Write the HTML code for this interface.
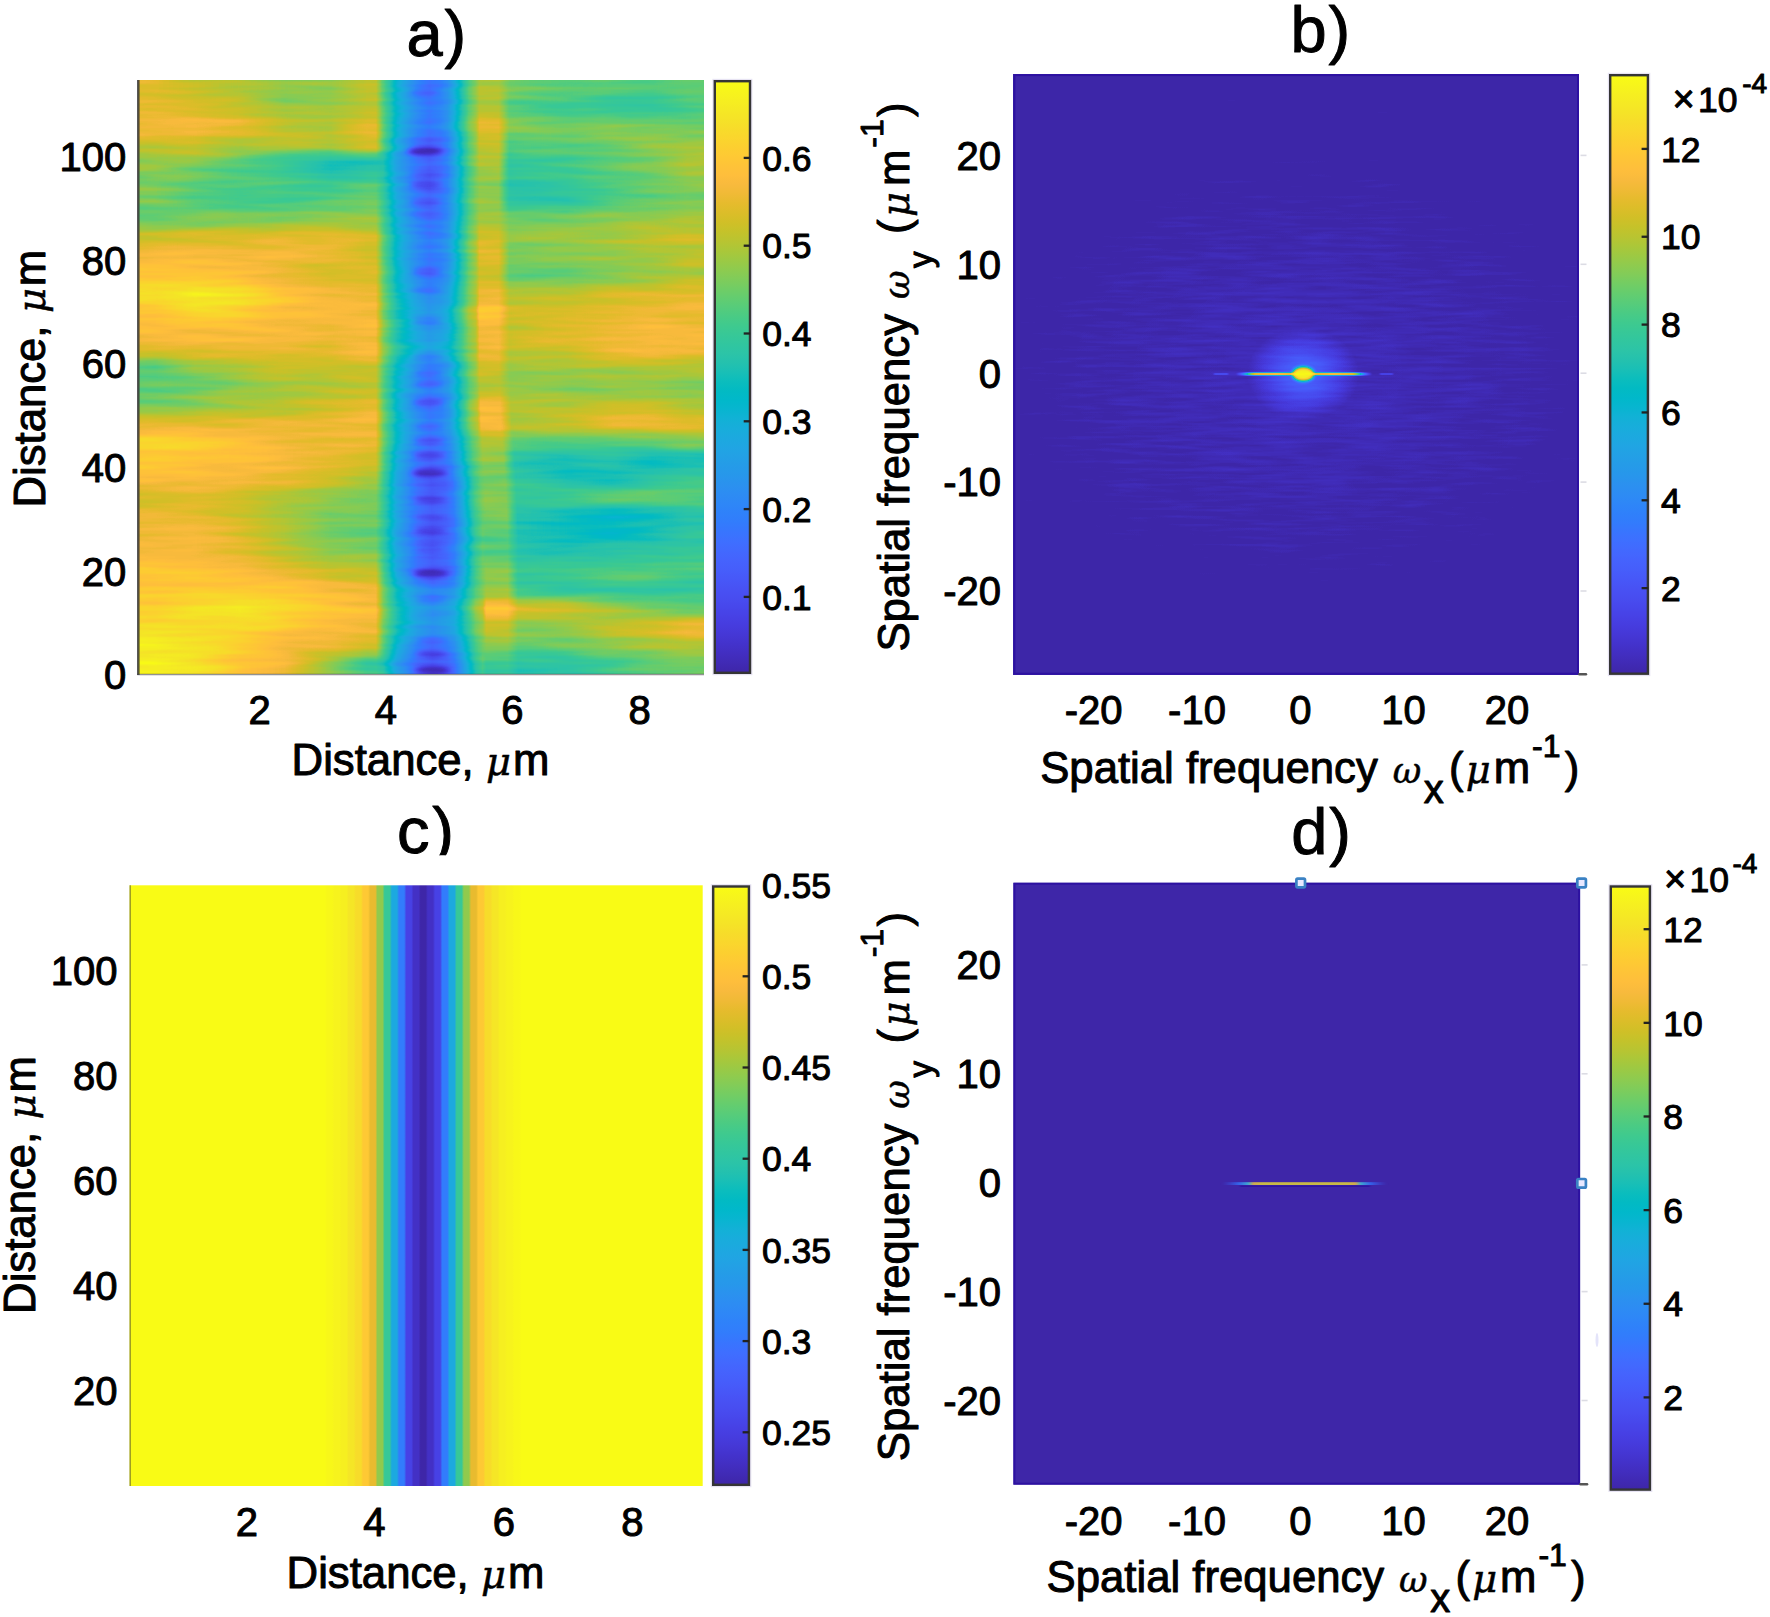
<!DOCTYPE html>
<html><head><meta charset="utf-8"><title>Figure</title>
<style>html,body{margin:0;padding:0;background:#fff;overflow:hidden}svg{display:block}text{font-family:"Liberation Sans", sans-serif;fill:#000;stroke:#000;stroke-width:1.0px;stroke-linejoin:round}</style>
</head><body>
<svg width="1770" height="1617" viewBox="0 0 1770 1617">
<defs>
<linearGradient id="pg" x1="0" y1="0" x2="0" y2="1"><stop offset="0.0000" stop-color="#f9fb15"/><stop offset="0.0159" stop-color="#f7f51b"/><stop offset="0.0317" stop-color="#f6ef20"/><stop offset="0.0476" stop-color="#f5e924"/><stop offset="0.0635" stop-color="#f5e327"/><stop offset="0.0794" stop-color="#f7dc2a"/><stop offset="0.0952" stop-color="#fad62d"/><stop offset="0.1111" stop-color="#fccf30"/><stop offset="0.1270" stop-color="#fec934"/><stop offset="0.1429" stop-color="#fec338"/><stop offset="0.1587" stop-color="#febe3c"/><stop offset="0.1746" stop-color="#f8ba3d"/><stop offset="0.1905" stop-color="#f0ba36"/><stop offset="0.2063" stop-color="#e6bb2d"/><stop offset="0.2222" stop-color="#dcbd29"/><stop offset="0.2381" stop-color="#d1bf27"/><stop offset="0.2540" stop-color="#c5c22a"/><stop offset="0.2698" stop-color="#b9c431"/><stop offset="0.2857" stop-color="#abc739"/><stop offset="0.3016" stop-color="#9dc943"/><stop offset="0.3175" stop-color="#8fcb4e"/><stop offset="0.3333" stop-color="#81cc59"/><stop offset="0.3492" stop-color="#72cd64"/><stop offset="0.3651" stop-color="#64cd6f"/><stop offset="0.3810" stop-color="#57cc7a"/><stop offset="0.3968" stop-color="#4acb84"/><stop offset="0.4127" stop-color="#3fca8e"/><stop offset="0.4286" stop-color="#37c897"/><stop offset="0.4444" stop-color="#31c69f"/><stop offset="0.4603" stop-color="#2cc4a7"/><stop offset="0.4762" stop-color="#24c1ae"/><stop offset="0.4921" stop-color="#19bfb6"/><stop offset="0.5079" stop-color="#0bbdbd"/><stop offset="0.5238" stop-color="#02bac3"/><stop offset="0.5397" stop-color="#01b8ca"/><stop offset="0.5556" stop-color="#08b5d0"/><stop offset="0.5714" stop-color="#12b1d6"/><stop offset="0.5873" stop-color="#18addb"/><stop offset="0.6032" stop-color="#1ca9df"/><stop offset="0.6190" stop-color="#20a5e3"/><stop offset="0.6349" stop-color="#23a0e5"/><stop offset="0.6508" stop-color="#259be8"/><stop offset="0.6667" stop-color="#2797eb"/><stop offset="0.6825" stop-color="#2b91ef"/><stop offset="0.6984" stop-color="#2d8cf3"/><stop offset="0.7143" stop-color="#2e87f7"/><stop offset="0.7302" stop-color="#2f81fa"/><stop offset="0.7460" stop-color="#327cfc"/><stop offset="0.7619" stop-color="#3875fe"/><stop offset="0.7778" stop-color="#3e6fff"/><stop offset="0.7937" stop-color="#4269fe"/><stop offset="0.8095" stop-color="#4563fd"/><stop offset="0.8254" stop-color="#465efb"/><stop offset="0.8413" stop-color="#4758f8"/><stop offset="0.8571" stop-color="#4852f4"/><stop offset="0.8730" stop-color="#484df0"/><stop offset="0.8889" stop-color="#4747eb"/><stop offset="0.9048" stop-color="#4741e5"/><stop offset="0.9206" stop-color="#463cde"/><stop offset="0.9365" stop-color="#4537d5"/><stop offset="0.9524" stop-color="#4332cb"/><stop offset="0.9683" stop-color="#422ec0"/><stop offset="0.9841" stop-color="#402ab4"/><stop offset="1.0000" stop-color="#3e26a8"/></linearGradient>
<linearGradient id="a0" gradientUnits="userSpaceOnUse" x1="138.3" y1="0" x2="704.0" y2="0"><stop offset="0.0000" stop-color="#c7c7c7"/><stop offset="0.0300" stop-color="#c7c7c7"/><stop offset="0.1000" stop-color="#bfbfbf"/><stop offset="0.1800" stop-color="#b8b8b8"/><stop offset="0.2600" stop-color="#a9a9a9"/><stop offset="0.3400" stop-color="#adadad"/><stop offset="0.4050" stop-color="#bcbcbc"/><stop offset="0.4200" stop-color="#bcbcbc"/><stop offset="0.4326" stop-color="#9e9e9e"/><stop offset="0.4449" stop-color="#888888"/><stop offset="0.4573" stop-color="#707070"/><stop offset="0.4697" stop-color="#626262"/><stop offset="0.4821" stop-color="#545454"/><stop offset="0.4944" stop-color="#484848"/><stop offset="0.5140" stop-color="#3c3c3c"/><stop offset="0.5333" stop-color="#434343"/><stop offset="0.5466" stop-color="#4f4f4f"/><stop offset="0.5598" stop-color="#696969"/><stop offset="0.5722" stop-color="#838383"/><stop offset="0.5846" stop-color="#9e9e9e"/><stop offset="0.5970" stop-color="#adadad"/><stop offset="0.6030" stop-color="#b8b8b8"/><stop offset="0.6370" stop-color="#b8b8b8"/><stop offset="0.6560" stop-color="#a9a9a9"/><stop offset="0.7600" stop-color="#a1a1a1"/><stop offset="0.8400" stop-color="#9d9d9d"/><stop offset="0.9100" stop-color="#9d9d9d"/><stop offset="0.9700" stop-color="#a1a1a1"/><stop offset="1.0000" stop-color="#a1a1a1"/></linearGradient>
<linearGradient id="a1" gradientUnits="userSpaceOnUse" x1="138.3" y1="0" x2="704.0" y2="0"><stop offset="0.0000" stop-color="#cbcbcb"/><stop offset="0.0300" stop-color="#cbcbcb"/><stop offset="0.1000" stop-color="#c7c7c7"/><stop offset="0.1800" stop-color="#bfbfbf"/><stop offset="0.2600" stop-color="#b0b0b0"/><stop offset="0.3400" stop-color="#b4b4b4"/><stop offset="0.4050" stop-color="#bcbcbc"/><stop offset="0.4200" stop-color="#bcbcbc"/><stop offset="0.4326" stop-color="#9f9f9f"/><stop offset="0.4449" stop-color="#898989"/><stop offset="0.4573" stop-color="#727272"/><stop offset="0.4697" stop-color="#656565"/><stop offset="0.4821" stop-color="#575757"/><stop offset="0.4944" stop-color="#4c4c4c"/><stop offset="0.5140" stop-color="#3f3f3f"/><stop offset="0.5333" stop-color="#474747"/><stop offset="0.5466" stop-color="#525252"/><stop offset="0.5598" stop-color="#6b6b6b"/><stop offset="0.5722" stop-color="#858585"/><stop offset="0.5846" stop-color="#9e9e9e"/><stop offset="0.5970" stop-color="#adadad"/><stop offset="0.6030" stop-color="#b8b8b8"/><stop offset="0.6370" stop-color="#b8b8b8"/><stop offset="0.6560" stop-color="#9d9d9d"/><stop offset="0.7600" stop-color="#929292"/><stop offset="0.8400" stop-color="#8e8e8e"/><stop offset="0.9100" stop-color="#8e8e8e"/><stop offset="0.9700" stop-color="#969696"/><stop offset="1.0000" stop-color="#969696"/></linearGradient>
<linearGradient id="a2" gradientUnits="userSpaceOnUse" x1="138.3" y1="0" x2="704.0" y2="0"><stop offset="0.0000" stop-color="#d2d2d2"/><stop offset="0.0300" stop-color="#d2d2d2"/><stop offset="0.1000" stop-color="#d2d2d2"/><stop offset="0.1800" stop-color="#cecece"/><stop offset="0.2600" stop-color="#bfbfbf"/><stop offset="0.3400" stop-color="#b8b8b8"/><stop offset="0.4050" stop-color="#cbcbcb"/><stop offset="0.4200" stop-color="#cbcbcb"/><stop offset="0.4326" stop-color="#a5a5a5"/><stop offset="0.4449" stop-color="#8d8d8d"/><stop offset="0.4573" stop-color="#737373"/><stop offset="0.4697" stop-color="#646464"/><stop offset="0.4821" stop-color="#555555"/><stop offset="0.4944" stop-color="#494949"/><stop offset="0.5140" stop-color="#3c3c3c"/><stop offset="0.5333" stop-color="#434343"/><stop offset="0.5466" stop-color="#505050"/><stop offset="0.5598" stop-color="#6c6c6c"/><stop offset="0.5722" stop-color="#898989"/><stop offset="0.5846" stop-color="#a6a6a6"/><stop offset="0.5970" stop-color="#b6b6b6"/><stop offset="0.6030" stop-color="#cbcbcb"/><stop offset="0.6370" stop-color="#cbcbcb"/><stop offset="0.6560" stop-color="#adadad"/><stop offset="0.7600" stop-color="#a9a9a9"/><stop offset="0.8400" stop-color="#adadad"/><stop offset="0.9100" stop-color="#a9a9a9"/><stop offset="0.9700" stop-color="#a5a5a5"/><stop offset="1.0000" stop-color="#a5a5a5"/></linearGradient>
<linearGradient id="a3" gradientUnits="userSpaceOnUse" x1="138.3" y1="0" x2="704.0" y2="0"><stop offset="0.0000" stop-color="#bfbfbf"/><stop offset="0.0300" stop-color="#bfbfbf"/><stop offset="0.1000" stop-color="#c3c3c3"/><stop offset="0.1800" stop-color="#b8b8b8"/><stop offset="0.2600" stop-color="#b8b8b8"/><stop offset="0.3400" stop-color="#b8b8b8"/><stop offset="0.4050" stop-color="#c7c7c7"/><stop offset="0.4200" stop-color="#c7c7c7"/><stop offset="0.4326" stop-color="#a1a1a1"/><stop offset="0.4449" stop-color="#868686"/><stop offset="0.4573" stop-color="#6a6a6a"/><stop offset="0.4697" stop-color="#595959"/><stop offset="0.4821" stop-color="#484848"/><stop offset="0.4944" stop-color="#3a3a3a"/><stop offset="0.5140" stop-color="#2c2c2c"/><stop offset="0.5333" stop-color="#343434"/><stop offset="0.5466" stop-color="#424242"/><stop offset="0.5598" stop-color="#616161"/><stop offset="0.5722" stop-color="#808080"/><stop offset="0.5846" stop-color="#9f9f9f"/><stop offset="0.5970" stop-color="#b0b0b0"/><stop offset="0.6030" stop-color="#bfbfbf"/><stop offset="0.6370" stop-color="#bfbfbf"/><stop offset="0.6560" stop-color="#9a9a9a"/><stop offset="0.7600" stop-color="#9d9d9d"/><stop offset="0.8400" stop-color="#a5a5a5"/><stop offset="0.9100" stop-color="#adadad"/><stop offset="0.9700" stop-color="#b4b4b4"/><stop offset="1.0000" stop-color="#b4b4b4"/></linearGradient>
<linearGradient id="a4" gradientUnits="userSpaceOnUse" x1="138.3" y1="0" x2="704.0" y2="0"><stop offset="0.0000" stop-color="#b0b0b0"/><stop offset="0.0300" stop-color="#b0b0b0"/><stop offset="0.1000" stop-color="#a9a9a9"/><stop offset="0.1800" stop-color="#9d9d9d"/><stop offset="0.2600" stop-color="#8b8b8b"/><stop offset="0.3400" stop-color="#7c7c7c"/><stop offset="0.4050" stop-color="#838383"/><stop offset="0.4200" stop-color="#838383"/><stop offset="0.4326" stop-color="#858585"/><stop offset="0.4449" stop-color="#727272"/><stop offset="0.4573" stop-color="#5e5e5e"/><stop offset="0.4697" stop-color="#525252"/><stop offset="0.4821" stop-color="#464646"/><stop offset="0.4944" stop-color="#3c3c3c"/><stop offset="0.5140" stop-color="#303030"/><stop offset="0.5333" stop-color="#383838"/><stop offset="0.5466" stop-color="#454545"/><stop offset="0.5598" stop-color="#626262"/><stop offset="0.5722" stop-color="#7f7f7f"/><stop offset="0.5846" stop-color="#9c9c9c"/><stop offset="0.5970" stop-color="#adadad"/><stop offset="0.6030" stop-color="#b8b8b8"/><stop offset="0.6370" stop-color="#b8b8b8"/><stop offset="0.6560" stop-color="#8e8e8e"/><stop offset="0.7600" stop-color="#969696"/><stop offset="0.8400" stop-color="#a1a1a1"/><stop offset="0.9100" stop-color="#a9a9a9"/><stop offset="0.9700" stop-color="#b8b8b8"/><stop offset="1.0000" stop-color="#b8b8b8"/></linearGradient>
<linearGradient id="a5" gradientUnits="userSpaceOnUse" x1="138.3" y1="0" x2="704.0" y2="0"><stop offset="0.0000" stop-color="#a9a9a9"/><stop offset="0.0300" stop-color="#a9a9a9"/><stop offset="0.1000" stop-color="#a1a1a1"/><stop offset="0.1800" stop-color="#9d9d9d"/><stop offset="0.2600" stop-color="#969696"/><stop offset="0.3400" stop-color="#929292"/><stop offset="0.4050" stop-color="#9a9a9a"/><stop offset="0.4200" stop-color="#9a9a9a"/><stop offset="0.4326" stop-color="#8e8e8e"/><stop offset="0.4449" stop-color="#797979"/><stop offset="0.4573" stop-color="#626262"/><stop offset="0.4697" stop-color="#555555"/><stop offset="0.4821" stop-color="#484848"/><stop offset="0.4944" stop-color="#3d3d3d"/><stop offset="0.5140" stop-color="#303030"/><stop offset="0.5333" stop-color="#383838"/><stop offset="0.5466" stop-color="#444444"/><stop offset="0.5598" stop-color="#606060"/><stop offset="0.5722" stop-color="#7c7c7c"/><stop offset="0.5846" stop-color="#979797"/><stop offset="0.5970" stop-color="#a7a7a7"/><stop offset="0.6030" stop-color="#adadad"/><stop offset="0.6370" stop-color="#adadad"/><stop offset="0.6560" stop-color="#8b8b8b"/><stop offset="0.7600" stop-color="#929292"/><stop offset="0.8400" stop-color="#9d9d9d"/><stop offset="0.9100" stop-color="#a5a5a5"/><stop offset="0.9700" stop-color="#a9a9a9"/><stop offset="1.0000" stop-color="#a9a9a9"/></linearGradient>
<linearGradient id="a6" gradientUnits="userSpaceOnUse" x1="138.3" y1="0" x2="704.0" y2="0"><stop offset="0.0000" stop-color="#a9a9a9"/><stop offset="0.0300" stop-color="#a9a9a9"/><stop offset="0.1000" stop-color="#9d9d9d"/><stop offset="0.1800" stop-color="#969696"/><stop offset="0.2600" stop-color="#969696"/><stop offset="0.3400" stop-color="#9d9d9d"/><stop offset="0.4050" stop-color="#a5a5a5"/><stop offset="0.4200" stop-color="#a5a5a5"/><stop offset="0.4326" stop-color="#949494"/><stop offset="0.4449" stop-color="#7e7e7e"/><stop offset="0.4573" stop-color="#676767"/><stop offset="0.4697" stop-color="#5a5a5a"/><stop offset="0.4821" stop-color="#4c4c4c"/><stop offset="0.4944" stop-color="#414141"/><stop offset="0.5140" stop-color="#343434"/><stop offset="0.5333" stop-color="#3c3c3c"/><stop offset="0.5466" stop-color="#474747"/><stop offset="0.5598" stop-color="#626262"/><stop offset="0.5722" stop-color="#7d7d7d"/><stop offset="0.5846" stop-color="#989898"/><stop offset="0.5970" stop-color="#a7a7a7"/><stop offset="0.6030" stop-color="#adadad"/><stop offset="0.6370" stop-color="#adadad"/><stop offset="0.6560" stop-color="#8b8b8b"/><stop offset="0.7600" stop-color="#8b8b8b"/><stop offset="0.8400" stop-color="#9a9a9a"/><stop offset="0.9100" stop-color="#a1a1a1"/><stop offset="0.9700" stop-color="#a9a9a9"/><stop offset="1.0000" stop-color="#a9a9a9"/></linearGradient>
<linearGradient id="a7" gradientUnits="userSpaceOnUse" x1="138.3" y1="0" x2="704.0" y2="0"><stop offset="0.0000" stop-color="#a1a1a1"/><stop offset="0.0300" stop-color="#a1a1a1"/><stop offset="0.1000" stop-color="#a5a5a5"/><stop offset="0.1800" stop-color="#a9a9a9"/><stop offset="0.2600" stop-color="#adadad"/><stop offset="0.3400" stop-color="#b0b0b0"/><stop offset="0.4050" stop-color="#b0b0b0"/><stop offset="0.4200" stop-color="#b0b0b0"/><stop offset="0.4326" stop-color="#999999"/><stop offset="0.4449" stop-color="#838383"/><stop offset="0.4573" stop-color="#6c6c6c"/><stop offset="0.4697" stop-color="#5e5e5e"/><stop offset="0.4821" stop-color="#505050"/><stop offset="0.4944" stop-color="#454545"/><stop offset="0.5140" stop-color="#383838"/><stop offset="0.5333" stop-color="#3f3f3f"/><stop offset="0.5466" stop-color="#4b4b4b"/><stop offset="0.5598" stop-color="#666666"/><stop offset="0.5722" stop-color="#818181"/><stop offset="0.5846" stop-color="#9c9c9c"/><stop offset="0.5970" stop-color="#ababab"/><stop offset="0.6030" stop-color="#b4b4b4"/><stop offset="0.6370" stop-color="#b4b4b4"/><stop offset="0.6560" stop-color="#a9a9a9"/><stop offset="0.7600" stop-color="#a9a9a9"/><stop offset="0.8400" stop-color="#adadad"/><stop offset="0.9100" stop-color="#b0b0b0"/><stop offset="0.9700" stop-color="#b4b4b4"/><stop offset="1.0000" stop-color="#b4b4b4"/></linearGradient>
<linearGradient id="a8" gradientUnits="userSpaceOnUse" x1="138.3" y1="0" x2="704.0" y2="0"><stop offset="0.0000" stop-color="#c3c3c3"/><stop offset="0.0300" stop-color="#c3c3c3"/><stop offset="0.1000" stop-color="#c7c7c7"/><stop offset="0.1800" stop-color="#c7c7c7"/><stop offset="0.2600" stop-color="#cbcbcb"/><stop offset="0.3400" stop-color="#cbcbcb"/><stop offset="0.4050" stop-color="#c3c3c3"/><stop offset="0.4200" stop-color="#c3c3c3"/><stop offset="0.4326" stop-color="#a2a2a2"/><stop offset="0.4449" stop-color="#8c8c8c"/><stop offset="0.4573" stop-color="#747474"/><stop offset="0.4697" stop-color="#666666"/><stop offset="0.4821" stop-color="#585858"/><stop offset="0.4944" stop-color="#4c4c4c"/><stop offset="0.5140" stop-color="#3f3f3f"/><stop offset="0.5333" stop-color="#474747"/><stop offset="0.5466" stop-color="#535353"/><stop offset="0.5598" stop-color="#6d6d6d"/><stop offset="0.5722" stop-color="#888888"/><stop offset="0.5846" stop-color="#a3a3a3"/><stop offset="0.5970" stop-color="#b2b2b2"/><stop offset="0.6030" stop-color="#c3c3c3"/><stop offset="0.6370" stop-color="#c3c3c3"/><stop offset="0.6560" stop-color="#adadad"/><stop offset="0.7600" stop-color="#b0b0b0"/><stop offset="0.8400" stop-color="#b8b8b8"/><stop offset="0.9100" stop-color="#bfbfbf"/><stop offset="0.9700" stop-color="#c3c3c3"/><stop offset="1.0000" stop-color="#c3c3c3"/></linearGradient>
<linearGradient id="a9" gradientUnits="userSpaceOnUse" x1="138.3" y1="0" x2="704.0" y2="0"><stop offset="0.0000" stop-color="#d6d6d6"/><stop offset="0.0300" stop-color="#d6d6d6"/><stop offset="0.1000" stop-color="#d2d2d2"/><stop offset="0.1800" stop-color="#d2d2d2"/><stop offset="0.2600" stop-color="#d2d2d2"/><stop offset="0.3400" stop-color="#cecece"/><stop offset="0.4050" stop-color="#c3c3c3"/><stop offset="0.4200" stop-color="#c3c3c3"/><stop offset="0.4326" stop-color="#a2a2a2"/><stop offset="0.4449" stop-color="#8c8c8c"/><stop offset="0.4573" stop-color="#747474"/><stop offset="0.4697" stop-color="#666666"/><stop offset="0.4821" stop-color="#585858"/><stop offset="0.4944" stop-color="#4c4c4c"/><stop offset="0.5140" stop-color="#3f3f3f"/><stop offset="0.5333" stop-color="#474747"/><stop offset="0.5466" stop-color="#535353"/><stop offset="0.5598" stop-color="#6f6f6f"/><stop offset="0.5722" stop-color="#8b8b8b"/><stop offset="0.5846" stop-color="#a6a6a6"/><stop offset="0.5970" stop-color="#b6b6b6"/><stop offset="0.6030" stop-color="#cbcbcb"/><stop offset="0.6370" stop-color="#cbcbcb"/><stop offset="0.6560" stop-color="#a9a9a9"/><stop offset="0.7600" stop-color="#adadad"/><stop offset="0.8400" stop-color="#b0b0b0"/><stop offset="0.9100" stop-color="#b4b4b4"/><stop offset="0.9700" stop-color="#b8b8b8"/><stop offset="1.0000" stop-color="#b8b8b8"/></linearGradient>
<linearGradient id="a10" gradientUnits="userSpaceOnUse" x1="138.3" y1="0" x2="704.0" y2="0"><stop offset="0.0000" stop-color="#dddddd"/><stop offset="0.0300" stop-color="#dddddd"/><stop offset="0.1000" stop-color="#dddddd"/><stop offset="0.1800" stop-color="#d6d6d6"/><stop offset="0.2600" stop-color="#cbcbcb"/><stop offset="0.3400" stop-color="#c3c3c3"/><stop offset="0.4050" stop-color="#c3c3c3"/><stop offset="0.4200" stop-color="#c3c3c3"/><stop offset="0.4326" stop-color="#a2a2a2"/><stop offset="0.4449" stop-color="#8c8c8c"/><stop offset="0.4573" stop-color="#747474"/><stop offset="0.4697" stop-color="#666666"/><stop offset="0.4821" stop-color="#585858"/><stop offset="0.4944" stop-color="#4c4c4c"/><stop offset="0.5140" stop-color="#3f3f3f"/><stop offset="0.5333" stop-color="#474747"/><stop offset="0.5466" stop-color="#525252"/><stop offset="0.5598" stop-color="#6d6d6d"/><stop offset="0.5722" stop-color="#878787"/><stop offset="0.5846" stop-color="#a2a2a2"/><stop offset="0.5970" stop-color="#b0b0b0"/><stop offset="0.6030" stop-color="#bfbfbf"/><stop offset="0.6370" stop-color="#bfbfbf"/><stop offset="0.6560" stop-color="#a1a1a1"/><stop offset="0.7600" stop-color="#a1a1a1"/><stop offset="0.8400" stop-color="#a9a9a9"/><stop offset="0.9100" stop-color="#b0b0b0"/><stop offset="0.9700" stop-color="#b8b8b8"/><stop offset="1.0000" stop-color="#b8b8b8"/></linearGradient>
<linearGradient id="a11" gradientUnits="userSpaceOnUse" x1="138.3" y1="0" x2="704.0" y2="0"><stop offset="0.0000" stop-color="#ededed"/><stop offset="0.0300" stop-color="#ededed"/><stop offset="0.1000" stop-color="#f8f8f8"/><stop offset="0.1800" stop-color="#f0f0f0"/><stop offset="0.2600" stop-color="#dddddd"/><stop offset="0.3400" stop-color="#d2d2d2"/><stop offset="0.4050" stop-color="#cecece"/><stop offset="0.4200" stop-color="#cecece"/><stop offset="0.4326" stop-color="#a9a9a9"/><stop offset="0.4449" stop-color="#959595"/><stop offset="0.4573" stop-color="#7f7f7f"/><stop offset="0.4697" stop-color="#727272"/><stop offset="0.4821" stop-color="#666666"/><stop offset="0.4944" stop-color="#5b5b5b"/><stop offset="0.5140" stop-color="#4e4e4e"/><stop offset="0.5333" stop-color="#565656"/><stop offset="0.5466" stop-color="#616161"/><stop offset="0.5598" stop-color="#797979"/><stop offset="0.5722" stop-color="#929292"/><stop offset="0.5846" stop-color="#aaaaaa"/><stop offset="0.5970" stop-color="#b8b8b8"/><stop offset="0.6030" stop-color="#cecece"/><stop offset="0.6370" stop-color="#cecece"/><stop offset="0.6560" stop-color="#b8b8b8"/><stop offset="0.7600" stop-color="#bcbcbc"/><stop offset="0.8400" stop-color="#c3c3c3"/><stop offset="0.9100" stop-color="#c7c7c7"/><stop offset="0.9700" stop-color="#cbcbcb"/><stop offset="1.0000" stop-color="#cbcbcb"/></linearGradient>
<linearGradient id="a12" gradientUnits="userSpaceOnUse" x1="138.3" y1="0" x2="704.0" y2="0"><stop offset="0.0000" stop-color="#dddddd"/><stop offset="0.0300" stop-color="#dddddd"/><stop offset="0.1000" stop-color="#e5e5e5"/><stop offset="0.1800" stop-color="#e1e1e1"/><stop offset="0.2600" stop-color="#dadada"/><stop offset="0.3400" stop-color="#d6d6d6"/><stop offset="0.4050" stop-color="#d2d2d2"/><stop offset="0.4200" stop-color="#d2d2d2"/><stop offset="0.4326" stop-color="#acacac"/><stop offset="0.4449" stop-color="#989898"/><stop offset="0.4573" stop-color="#848484"/><stop offset="0.4697" stop-color="#787878"/><stop offset="0.4821" stop-color="#6c6c6c"/><stop offset="0.4944" stop-color="#626262"/><stop offset="0.5140" stop-color="#565656"/><stop offset="0.5333" stop-color="#5d5d5d"/><stop offset="0.5466" stop-color="#686868"/><stop offset="0.5598" stop-color="#818181"/><stop offset="0.5722" stop-color="#999999"/><stop offset="0.5846" stop-color="#b2b2b2"/><stop offset="0.5970" stop-color="#bfbfbf"/><stop offset="0.6030" stop-color="#dddddd"/><stop offset="0.6370" stop-color="#dddddd"/><stop offset="0.6560" stop-color="#c3c3c3"/><stop offset="0.7600" stop-color="#c7c7c7"/><stop offset="0.8400" stop-color="#cbcbcb"/><stop offset="0.9100" stop-color="#cecece"/><stop offset="0.9700" stop-color="#cecece"/><stop offset="1.0000" stop-color="#cecece"/></linearGradient>
<linearGradient id="a13" gradientUnits="userSpaceOnUse" x1="138.3" y1="0" x2="704.0" y2="0"><stop offset="0.0000" stop-color="#d6d6d6"/><stop offset="0.0300" stop-color="#d6d6d6"/><stop offset="0.1000" stop-color="#d6d6d6"/><stop offset="0.1800" stop-color="#d6d6d6"/><stop offset="0.2600" stop-color="#d2d2d2"/><stop offset="0.3400" stop-color="#cecece"/><stop offset="0.4050" stop-color="#d2d2d2"/><stop offset="0.4200" stop-color="#d2d2d2"/><stop offset="0.4326" stop-color="#acacac"/><stop offset="0.4449" stop-color="#989898"/><stop offset="0.4573" stop-color="#848484"/><stop offset="0.4697" stop-color="#787878"/><stop offset="0.4821" stop-color="#6c6c6c"/><stop offset="0.4944" stop-color="#626262"/><stop offset="0.5140" stop-color="#565656"/><stop offset="0.5333" stop-color="#5d5d5d"/><stop offset="0.5466" stop-color="#686868"/><stop offset="0.5598" stop-color="#7f7f7f"/><stop offset="0.5722" stop-color="#969696"/><stop offset="0.5846" stop-color="#adadad"/><stop offset="0.5970" stop-color="#bababa"/><stop offset="0.6030" stop-color="#d2d2d2"/><stop offset="0.6370" stop-color="#d2d2d2"/><stop offset="0.6560" stop-color="#bfbfbf"/><stop offset="0.7600" stop-color="#c7c7c7"/><stop offset="0.8400" stop-color="#cecece"/><stop offset="0.9100" stop-color="#d2d2d2"/><stop offset="0.9700" stop-color="#d2d2d2"/><stop offset="1.0000" stop-color="#d2d2d2"/></linearGradient>
<linearGradient id="a14" gradientUnits="userSpaceOnUse" x1="138.3" y1="0" x2="704.0" y2="0"><stop offset="0.0000" stop-color="#cbcbcb"/><stop offset="0.0300" stop-color="#cbcbcb"/><stop offset="0.1000" stop-color="#cecece"/><stop offset="0.1800" stop-color="#cecece"/><stop offset="0.2600" stop-color="#cecece"/><stop offset="0.3400" stop-color="#cbcbcb"/><stop offset="0.4050" stop-color="#d2d2d2"/><stop offset="0.4200" stop-color="#d2d2d2"/><stop offset="0.4326" stop-color="#aeaeae"/><stop offset="0.4449" stop-color="#9d9d9d"/><stop offset="0.4573" stop-color="#8b8b8b"/><stop offset="0.4697" stop-color="#808080"/><stop offset="0.4821" stop-color="#767676"/><stop offset="0.4944" stop-color="#6d6d6d"/><stop offset="0.5140" stop-color="#616161"/><stop offset="0.5333" stop-color="#696969"/><stop offset="0.5466" stop-color="#727272"/><stop offset="0.5598" stop-color="#868686"/><stop offset="0.5722" stop-color="#9a9a9a"/><stop offset="0.5846" stop-color="#aeaeae"/><stop offset="0.5970" stop-color="#bababa"/><stop offset="0.6030" stop-color="#d2d2d2"/><stop offset="0.6370" stop-color="#d2d2d2"/><stop offset="0.6560" stop-color="#bcbcbc"/><stop offset="0.7600" stop-color="#c3c3c3"/><stop offset="0.8400" stop-color="#d2d2d2"/><stop offset="0.9100" stop-color="#d6d6d6"/><stop offset="0.9700" stop-color="#d2d2d2"/><stop offset="1.0000" stop-color="#d2d2d2"/></linearGradient>
<linearGradient id="a15" gradientUnits="userSpaceOnUse" x1="138.3" y1="0" x2="704.0" y2="0"><stop offset="0.0000" stop-color="#9a9a9a"/><stop offset="0.0300" stop-color="#9a9a9a"/><stop offset="0.1000" stop-color="#b0b0b0"/><stop offset="0.1800" stop-color="#b8b8b8"/><stop offset="0.2600" stop-color="#bfbfbf"/><stop offset="0.3400" stop-color="#bfbfbf"/><stop offset="0.4050" stop-color="#bfbfbf"/><stop offset="0.4200" stop-color="#bfbfbf"/><stop offset="0.4326" stop-color="#a2a2a2"/><stop offset="0.4449" stop-color="#8d8d8d"/><stop offset="0.4573" stop-color="#777777"/><stop offset="0.4697" stop-color="#6b6b6b"/><stop offset="0.4821" stop-color="#5e5e5e"/><stop offset="0.4944" stop-color="#535353"/><stop offset="0.5140" stop-color="#474747"/><stop offset="0.5333" stop-color="#4e4e4e"/><stop offset="0.5466" stop-color="#595959"/><stop offset="0.5598" stop-color="#727272"/><stop offset="0.5722" stop-color="#8b8b8b"/><stop offset="0.5846" stop-color="#a4a4a4"/><stop offset="0.5970" stop-color="#b2b2b2"/><stop offset="0.6030" stop-color="#c3c3c3"/><stop offset="0.6370" stop-color="#c3c3c3"/><stop offset="0.6560" stop-color="#b0b0b0"/><stop offset="0.7600" stop-color="#b4b4b4"/><stop offset="0.8400" stop-color="#b8b8b8"/><stop offset="0.9100" stop-color="#b8b8b8"/><stop offset="0.9700" stop-color="#b8b8b8"/><stop offset="1.0000" stop-color="#b8b8b8"/></linearGradient>
<linearGradient id="a16" gradientUnits="userSpaceOnUse" x1="138.3" y1="0" x2="704.0" y2="0"><stop offset="0.0000" stop-color="#a1a1a1"/><stop offset="0.0300" stop-color="#a1a1a1"/><stop offset="0.1000" stop-color="#a5a5a5"/><stop offset="0.1800" stop-color="#adadad"/><stop offset="0.2600" stop-color="#b4b4b4"/><stop offset="0.3400" stop-color="#b8b8b8"/><stop offset="0.4050" stop-color="#bcbcbc"/><stop offset="0.4200" stop-color="#bcbcbc"/><stop offset="0.4326" stop-color="#9f9f9f"/><stop offset="0.4449" stop-color="#8a8a8a"/><stop offset="0.4573" stop-color="#757575"/><stop offset="0.4697" stop-color="#686868"/><stop offset="0.4821" stop-color="#5b5b5b"/><stop offset="0.4944" stop-color="#505050"/><stop offset="0.5145" stop-color="#434343"/><stop offset="0.5343" stop-color="#4b4b4b"/><stop offset="0.5476" stop-color="#555555"/><stop offset="0.5608" stop-color="#6e6e6e"/><stop offset="0.5732" stop-color="#868686"/><stop offset="0.5856" stop-color="#9f9f9f"/><stop offset="0.5980" stop-color="#adadad"/><stop offset="0.6040" stop-color="#b8b8b8"/><stop offset="0.6383" stop-color="#b8b8b8"/><stop offset="0.6573" stop-color="#adadad"/><stop offset="0.7600" stop-color="#a9a9a9"/><stop offset="0.8400" stop-color="#adadad"/><stop offset="0.9100" stop-color="#adadad"/><stop offset="0.9700" stop-color="#a9a9a9"/><stop offset="1.0000" stop-color="#a9a9a9"/></linearGradient>
<linearGradient id="a17" gradientUnits="userSpaceOnUse" x1="138.3" y1="0" x2="704.0" y2="0"><stop offset="0.0000" stop-color="#a5a5a5"/><stop offset="0.0300" stop-color="#a5a5a5"/><stop offset="0.1000" stop-color="#a9a9a9"/><stop offset="0.1800" stop-color="#b4b4b4"/><stop offset="0.2600" stop-color="#bcbcbc"/><stop offset="0.3400" stop-color="#c3c3c3"/><stop offset="0.4050" stop-color="#cbcbcb"/><stop offset="0.4200" stop-color="#cbcbcb"/><stop offset="0.4326" stop-color="#a5a5a5"/><stop offset="0.4449" stop-color="#8d8d8d"/><stop offset="0.4573" stop-color="#737373"/><stop offset="0.4697" stop-color="#646464"/><stop offset="0.4821" stop-color="#555555"/><stop offset="0.4944" stop-color="#494949"/><stop offset="0.5150" stop-color="#3c3c3c"/><stop offset="0.5353" stop-color="#434343"/><stop offset="0.5486" stop-color="#505050"/><stop offset="0.5618" stop-color="#6e6e6e"/><stop offset="0.5742" stop-color="#8b8b8b"/><stop offset="0.5866" stop-color="#a9a9a9"/><stop offset="0.5990" stop-color="#bababa"/><stop offset="0.6050" stop-color="#d2d2d2"/><stop offset="0.6396" stop-color="#d2d2d2"/><stop offset="0.6586" stop-color="#b8b8b8"/><stop offset="0.7600" stop-color="#b8b8b8"/><stop offset="0.8400" stop-color="#bfbfbf"/><stop offset="0.9100" stop-color="#bcbcbc"/><stop offset="0.9700" stop-color="#b8b8b8"/><stop offset="1.0000" stop-color="#b8b8b8"/></linearGradient>
<linearGradient id="a18" gradientUnits="userSpaceOnUse" x1="138.3" y1="0" x2="704.0" y2="0"><stop offset="0.0000" stop-color="#cbcbcb"/><stop offset="0.0300" stop-color="#cbcbcb"/><stop offset="0.1000" stop-color="#cbcbcb"/><stop offset="0.1800" stop-color="#cbcbcb"/><stop offset="0.2600" stop-color="#cbcbcb"/><stop offset="0.3400" stop-color="#cecece"/><stop offset="0.4050" stop-color="#d2d2d2"/><stop offset="0.4200" stop-color="#d2d2d2"/><stop offset="0.4326" stop-color="#a9a9a9"/><stop offset="0.4449" stop-color="#929292"/><stop offset="0.4573" stop-color="#797979"/><stop offset="0.4697" stop-color="#6b6b6b"/><stop offset="0.4821" stop-color="#5c5c5c"/><stop offset="0.4944" stop-color="#505050"/><stop offset="0.5155" stop-color="#434343"/><stop offset="0.5363" stop-color="#4b4b4b"/><stop offset="0.5496" stop-color="#575757"/><stop offset="0.5628" stop-color="#737373"/><stop offset="0.5752" stop-color="#909090"/><stop offset="0.5876" stop-color="#acacac"/><stop offset="0.6000" stop-color="#bcbcbc"/><stop offset="0.6060" stop-color="#d6d6d6"/><stop offset="0.6409" stop-color="#d6d6d6"/><stop offset="0.6599" stop-color="#b8b8b8"/><stop offset="0.7600" stop-color="#c3c3c3"/><stop offset="0.8400" stop-color="#cecece"/><stop offset="0.9100" stop-color="#d2d2d2"/><stop offset="0.9700" stop-color="#cecece"/><stop offset="1.0000" stop-color="#cecece"/></linearGradient>
<linearGradient id="a19" gradientUnits="userSpaceOnUse" x1="138.3" y1="0" x2="704.0" y2="0"><stop offset="0.0000" stop-color="#e9e9e9"/><stop offset="0.0300" stop-color="#e9e9e9"/><stop offset="0.1000" stop-color="#e1e1e1"/><stop offset="0.1800" stop-color="#dadada"/><stop offset="0.2600" stop-color="#d2d2d2"/><stop offset="0.3400" stop-color="#cecece"/><stop offset="0.4050" stop-color="#cbcbcb"/><stop offset="0.4200" stop-color="#cbcbcb"/><stop offset="0.4326" stop-color="#a5a5a5"/><stop offset="0.4449" stop-color="#8d8d8d"/><stop offset="0.4573" stop-color="#737373"/><stop offset="0.4697" stop-color="#646464"/><stop offset="0.4821" stop-color="#555555"/><stop offset="0.4944" stop-color="#494949"/><stop offset="0.5165" stop-color="#3c3c3c"/><stop offset="0.5383" stop-color="#434343"/><stop offset="0.5516" stop-color="#4f4f4f"/><stop offset="0.5648" stop-color="#696969"/><stop offset="0.5772" stop-color="#838383"/><stop offset="0.5896" stop-color="#9e9e9e"/><stop offset="0.6020" stop-color="#adadad"/><stop offset="0.6080" stop-color="#b8b8b8"/><stop offset="0.6435" stop-color="#b8b8b8"/><stop offset="0.6625" stop-color="#a1a1a1"/><stop offset="0.7600" stop-color="#9d9d9d"/><stop offset="0.8400" stop-color="#9d9d9d"/><stop offset="0.9100" stop-color="#a1a1a1"/><stop offset="0.9700" stop-color="#a9a9a9"/><stop offset="1.0000" stop-color="#a9a9a9"/></linearGradient>
<linearGradient id="a20" gradientUnits="userSpaceOnUse" x1="138.3" y1="0" x2="704.0" y2="0"><stop offset="0.0000" stop-color="#dddddd"/><stop offset="0.0300" stop-color="#dddddd"/><stop offset="0.1000" stop-color="#dddddd"/><stop offset="0.1800" stop-color="#dadada"/><stop offset="0.2600" stop-color="#d2d2d2"/><stop offset="0.3400" stop-color="#cbcbcb"/><stop offset="0.4050" stop-color="#c3c3c3"/><stop offset="0.4200" stop-color="#c3c3c3"/><stop offset="0.4326" stop-color="#a0a0a0"/><stop offset="0.4449" stop-color="#868686"/><stop offset="0.4573" stop-color="#6b6b6b"/><stop offset="0.4697" stop-color="#5b5b5b"/><stop offset="0.4821" stop-color="#4b4b4b"/><stop offset="0.4944" stop-color="#3e3e3e"/><stop offset="0.5175" stop-color="#303030"/><stop offset="0.5403" stop-color="#383838"/><stop offset="0.5536" stop-color="#444444"/><stop offset="0.5668" stop-color="#606060"/><stop offset="0.5792" stop-color="#7c7c7c"/><stop offset="0.5916" stop-color="#979797"/><stop offset="0.6040" stop-color="#a7a7a7"/><stop offset="0.6100" stop-color="#adadad"/><stop offset="0.6461" stop-color="#adadad"/><stop offset="0.6651" stop-color="#8b8b8b"/><stop offset="0.7600" stop-color="#838383"/><stop offset="0.8400" stop-color="#838383"/><stop offset="0.9100" stop-color="#7c7c7c"/><stop offset="0.9700" stop-color="#7f7f7f"/><stop offset="1.0000" stop-color="#7f7f7f"/></linearGradient>
<linearGradient id="a21" gradientUnits="userSpaceOnUse" x1="138.3" y1="0" x2="704.0" y2="0"><stop offset="0.0000" stop-color="#d6d6d6"/><stop offset="0.0300" stop-color="#d6d6d6"/><stop offset="0.1000" stop-color="#d6d6d6"/><stop offset="0.1800" stop-color="#d2d2d2"/><stop offset="0.2600" stop-color="#cecece"/><stop offset="0.3400" stop-color="#c3c3c3"/><stop offset="0.4050" stop-color="#b8b8b8"/><stop offset="0.4200" stop-color="#b8b8b8"/><stop offset="0.4326" stop-color="#9a9a9a"/><stop offset="0.4449" stop-color="#808080"/><stop offset="0.4573" stop-color="#646464"/><stop offset="0.4697" stop-color="#545454"/><stop offset="0.4821" stop-color="#444444"/><stop offset="0.4944" stop-color="#363636"/><stop offset="0.5185" stop-color="#292929"/><stop offset="0.5423" stop-color="#303030"/><stop offset="0.5556" stop-color="#3d3d3d"/><stop offset="0.5688" stop-color="#5a5a5a"/><stop offset="0.5812" stop-color="#767676"/><stop offset="0.5936" stop-color="#939393"/><stop offset="0.6060" stop-color="#a3a3a3"/><stop offset="0.6120" stop-color="#a5a5a5"/><stop offset="0.6487" stop-color="#a5a5a5"/><stop offset="0.6677" stop-color="#8b8b8b"/><stop offset="0.7600" stop-color="#7f7f7f"/><stop offset="0.8400" stop-color="#838383"/><stop offset="0.9100" stop-color="#8b8b8b"/><stop offset="0.9700" stop-color="#929292"/><stop offset="1.0000" stop-color="#929292"/></linearGradient>
<linearGradient id="a22" gradientUnits="userSpaceOnUse" x1="138.3" y1="0" x2="704.0" y2="0"><stop offset="0.0000" stop-color="#c3c3c3"/><stop offset="0.0300" stop-color="#c3c3c3"/><stop offset="0.1000" stop-color="#c3c3c3"/><stop offset="0.1800" stop-color="#bfbfbf"/><stop offset="0.2600" stop-color="#b8b8b8"/><stop offset="0.3400" stop-color="#adadad"/><stop offset="0.4050" stop-color="#a9a9a9"/><stop offset="0.4200" stop-color="#a9a9a9"/><stop offset="0.4326" stop-color="#949494"/><stop offset="0.4449" stop-color="#7c7c7c"/><stop offset="0.4573" stop-color="#636363"/><stop offset="0.4697" stop-color="#555555"/><stop offset="0.4821" stop-color="#464646"/><stop offset="0.4944" stop-color="#3a3a3a"/><stop offset="0.5190" stop-color="#2c2c2c"/><stop offset="0.5433" stop-color="#343434"/><stop offset="0.5566" stop-color="#414141"/><stop offset="0.5698" stop-color="#5d5d5d"/><stop offset="0.5822" stop-color="#7a7a7a"/><stop offset="0.5946" stop-color="#979797"/><stop offset="0.6070" stop-color="#a7a7a7"/><stop offset="0.6130" stop-color="#adadad"/><stop offset="0.6500" stop-color="#adadad"/><stop offset="0.6690" stop-color="#969696"/><stop offset="0.7600" stop-color="#9a9a9a"/><stop offset="0.8400" stop-color="#a1a1a1"/><stop offset="0.9100" stop-color="#a5a5a5"/><stop offset="0.9700" stop-color="#a1a1a1"/><stop offset="1.0000" stop-color="#a1a1a1"/></linearGradient>
<linearGradient id="a23" gradientUnits="userSpaceOnUse" x1="138.3" y1="0" x2="704.0" y2="0"><stop offset="0.0000" stop-color="#cecece"/><stop offset="0.0300" stop-color="#cecece"/><stop offset="0.1000" stop-color="#cbcbcb"/><stop offset="0.1800" stop-color="#c3c3c3"/><stop offset="0.2600" stop-color="#b8b8b8"/><stop offset="0.3400" stop-color="#a9a9a9"/><stop offset="0.4050" stop-color="#a5a5a5"/><stop offset="0.4200" stop-color="#a5a5a5"/><stop offset="0.4326" stop-color="#929292"/><stop offset="0.4449" stop-color="#7b7b7b"/><stop offset="0.4573" stop-color="#636363"/><stop offset="0.4697" stop-color="#545454"/><stop offset="0.4821" stop-color="#464646"/><stop offset="0.4944" stop-color="#3a3a3a"/><stop offset="0.5195" stop-color="#2c2c2c"/><stop offset="0.5443" stop-color="#343434"/><stop offset="0.5576" stop-color="#404040"/><stop offset="0.5708" stop-color="#5d5d5d"/><stop offset="0.5832" stop-color="#797979"/><stop offset="0.5956" stop-color="#959595"/><stop offset="0.6080" stop-color="#a5a5a5"/><stop offset="0.6140" stop-color="#a9a9a9"/><stop offset="0.6513" stop-color="#a9a9a9"/><stop offset="0.6703" stop-color="#838383"/><stop offset="0.7600" stop-color="#7c7c7c"/><stop offset="0.8400" stop-color="#747474"/><stop offset="0.9100" stop-color="#7c7c7c"/><stop offset="0.9700" stop-color="#838383"/><stop offset="1.0000" stop-color="#838383"/></linearGradient>
<linearGradient id="a24" gradientUnits="userSpaceOnUse" x1="138.3" y1="0" x2="704.0" y2="0"><stop offset="0.0000" stop-color="#d2d2d2"/><stop offset="0.0300" stop-color="#d2d2d2"/><stop offset="0.1000" stop-color="#d2d2d2"/><stop offset="0.1800" stop-color="#c7c7c7"/><stop offset="0.2600" stop-color="#b8b8b8"/><stop offset="0.3400" stop-color="#a5a5a5"/><stop offset="0.4050" stop-color="#a1a1a1"/><stop offset="0.4200" stop-color="#a1a1a1"/><stop offset="0.4326" stop-color="#909090"/><stop offset="0.4449" stop-color="#797979"/><stop offset="0.4573" stop-color="#606060"/><stop offset="0.4697" stop-color="#515151"/><stop offset="0.4821" stop-color="#424242"/><stop offset="0.4944" stop-color="#363636"/><stop offset="0.5200" stop-color="#292929"/><stop offset="0.5453" stop-color="#303030"/><stop offset="0.5586" stop-color="#3c3c3c"/><stop offset="0.5718" stop-color="#585858"/><stop offset="0.5842" stop-color="#747474"/><stop offset="0.5966" stop-color="#909090"/><stop offset="0.6090" stop-color="#9f9f9f"/><stop offset="0.6150" stop-color="#9d9d9d"/><stop offset="0.6526" stop-color="#9d9d9d"/><stop offset="0.6716" stop-color="#838383"/><stop offset="0.7600" stop-color="#7c7c7c"/><stop offset="0.8400" stop-color="#7c7c7c"/><stop offset="0.9100" stop-color="#838383"/><stop offset="0.9700" stop-color="#8b8b8b"/><stop offset="1.0000" stop-color="#8b8b8b"/></linearGradient>
<linearGradient id="a25" gradientUnits="userSpaceOnUse" x1="138.3" y1="0" x2="704.0" y2="0"><stop offset="0.0000" stop-color="#d2d2d2"/><stop offset="0.0300" stop-color="#d2d2d2"/><stop offset="0.1000" stop-color="#d2d2d2"/><stop offset="0.1800" stop-color="#cbcbcb"/><stop offset="0.2600" stop-color="#bfbfbf"/><stop offset="0.3400" stop-color="#b0b0b0"/><stop offset="0.4050" stop-color="#adadad"/><stop offset="0.4200" stop-color="#adadad"/><stop offset="0.4326" stop-color="#969696"/><stop offset="0.4449" stop-color="#7f7f7f"/><stop offset="0.4573" stop-color="#666666"/><stop offset="0.4697" stop-color="#585858"/><stop offset="0.4821" stop-color="#4a4a4a"/><stop offset="0.4944" stop-color="#3d3d3d"/><stop offset="0.5200" stop-color="#303030"/><stop offset="0.5453" stop-color="#383838"/><stop offset="0.5586" stop-color="#434343"/><stop offset="0.5718" stop-color="#5d5d5d"/><stop offset="0.5842" stop-color="#777777"/><stop offset="0.5966" stop-color="#919191"/><stop offset="0.6090" stop-color="#9f9f9f"/><stop offset="0.6150" stop-color="#9d9d9d"/><stop offset="0.6526" stop-color="#9d9d9d"/><stop offset="0.6716" stop-color="#8b8b8b"/><stop offset="0.7600" stop-color="#878787"/><stop offset="0.8400" stop-color="#8b8b8b"/><stop offset="0.9100" stop-color="#8e8e8e"/><stop offset="0.9700" stop-color="#929292"/><stop offset="1.0000" stop-color="#929292"/></linearGradient>
<linearGradient id="a26" gradientUnits="userSpaceOnUse" x1="138.3" y1="0" x2="704.0" y2="0"><stop offset="0.0000" stop-color="#dddddd"/><stop offset="0.0300" stop-color="#dddddd"/><stop offset="0.1000" stop-color="#dddddd"/><stop offset="0.1800" stop-color="#d6d6d6"/><stop offset="0.2600" stop-color="#cbcbcb"/><stop offset="0.3400" stop-color="#bfbfbf"/><stop offset="0.4050" stop-color="#bfbfbf"/><stop offset="0.4200" stop-color="#bfbfbf"/><stop offset="0.4326" stop-color="#9d9d9d"/><stop offset="0.4449" stop-color="#818181"/><stop offset="0.4573" stop-color="#646464"/><stop offset="0.4697" stop-color="#535353"/><stop offset="0.4821" stop-color="#424242"/><stop offset="0.4944" stop-color="#333333"/><stop offset="0.5200" stop-color="#252525"/><stop offset="0.5453" stop-color="#2c2c2c"/><stop offset="0.5586" stop-color="#3a3a3a"/><stop offset="0.5718" stop-color="#595959"/><stop offset="0.5842" stop-color="#777777"/><stop offset="0.5966" stop-color="#969696"/><stop offset="0.6090" stop-color="#a7a7a7"/><stop offset="0.6150" stop-color="#adadad"/><stop offset="0.6526" stop-color="#adadad"/><stop offset="0.6716" stop-color="#929292"/><stop offset="0.7600" stop-color="#969696"/><stop offset="0.8400" stop-color="#9d9d9d"/><stop offset="0.9100" stop-color="#9d9d9d"/><stop offset="0.9700" stop-color="#9a9a9a"/><stop offset="1.0000" stop-color="#9a9a9a"/></linearGradient>
<linearGradient id="a27" gradientUnits="userSpaceOnUse" x1="138.3" y1="0" x2="704.0" y2="0"><stop offset="0.0000" stop-color="#dddddd"/><stop offset="0.0300" stop-color="#dddddd"/><stop offset="0.1000" stop-color="#e1e1e1"/><stop offset="0.1800" stop-color="#e1e1e1"/><stop offset="0.2600" stop-color="#dddddd"/><stop offset="0.3400" stop-color="#d6d6d6"/><stop offset="0.4050" stop-color="#d2d2d2"/><stop offset="0.4200" stop-color="#d2d2d2"/><stop offset="0.4326" stop-color="#aaaaaa"/><stop offset="0.4449" stop-color="#939393"/><stop offset="0.4573" stop-color="#7b7b7b"/><stop offset="0.4697" stop-color="#6d6d6d"/><stop offset="0.4821" stop-color="#606060"/><stop offset="0.4944" stop-color="#545454"/><stop offset="0.5200" stop-color="#474747"/><stop offset="0.5453" stop-color="#4e4e4e"/><stop offset="0.5586" stop-color="#585858"/><stop offset="0.5718" stop-color="#6f6f6f"/><stop offset="0.5842" stop-color="#858585"/><stop offset="0.5966" stop-color="#9c9c9c"/><stop offset="0.6090" stop-color="#a9a9a9"/><stop offset="0.6150" stop-color="#b0b0b0"/><stop offset="0.6526" stop-color="#b0b0b0"/><stop offset="0.6716" stop-color="#929292"/><stop offset="0.7600" stop-color="#8e8e8e"/><stop offset="0.8400" stop-color="#8e8e8e"/><stop offset="0.9100" stop-color="#8e8e8e"/><stop offset="0.9700" stop-color="#8e8e8e"/><stop offset="1.0000" stop-color="#8e8e8e"/></linearGradient>
<linearGradient id="a28" gradientUnits="userSpaceOnUse" x1="138.3" y1="0" x2="704.0" y2="0"><stop offset="0.0000" stop-color="#e1e1e1"/><stop offset="0.0300" stop-color="#e1e1e1"/><stop offset="0.1000" stop-color="#f0f0f0"/><stop offset="0.1800" stop-color="#f4f4f4"/><stop offset="0.2600" stop-color="#e9e9e9"/><stop offset="0.3400" stop-color="#dddddd"/><stop offset="0.4050" stop-color="#d6d6d6"/><stop offset="0.4200" stop-color="#d6d6d6"/><stop offset="0.4326" stop-color="#adadad"/><stop offset="0.4449" stop-color="#989898"/><stop offset="0.4573" stop-color="#838383"/><stop offset="0.4697" stop-color="#767676"/><stop offset="0.4821" stop-color="#696969"/><stop offset="0.4944" stop-color="#5f5f5f"/><stop offset="0.5200" stop-color="#525252"/><stop offset="0.5453" stop-color="#5a5a5a"/><stop offset="0.5586" stop-color="#656565"/><stop offset="0.5718" stop-color="#7e7e7e"/><stop offset="0.5842" stop-color="#989898"/><stop offset="0.5966" stop-color="#b1b1b1"/><stop offset="0.6090" stop-color="#bfbfbf"/><stop offset="0.6150" stop-color="#dddddd"/><stop offset="0.6526" stop-color="#dddddd"/><stop offset="0.6716" stop-color="#c7c7c7"/><stop offset="0.7600" stop-color="#c3c3c3"/><stop offset="0.8400" stop-color="#b8b8b8"/><stop offset="0.9100" stop-color="#a9a9a9"/><stop offset="0.9700" stop-color="#a1a1a1"/><stop offset="1.0000" stop-color="#a1a1a1"/></linearGradient>
<linearGradient id="a29" gradientUnits="userSpaceOnUse" x1="138.3" y1="0" x2="704.0" y2="0"><stop offset="0.0000" stop-color="#ededed"/><stop offset="0.0300" stop-color="#ededed"/><stop offset="0.1000" stop-color="#ededed"/><stop offset="0.1800" stop-color="#e9e9e9"/><stop offset="0.2600" stop-color="#dddddd"/><stop offset="0.3400" stop-color="#d6d6d6"/><stop offset="0.4050" stop-color="#d2d2d2"/><stop offset="0.4200" stop-color="#d2d2d2"/><stop offset="0.4326" stop-color="#ababab"/><stop offset="0.4449" stop-color="#979797"/><stop offset="0.4573" stop-color="#828282"/><stop offset="0.4697" stop-color="#757575"/><stop offset="0.4821" stop-color="#696969"/><stop offset="0.4944" stop-color="#5e5e5e"/><stop offset="0.5200" stop-color="#525252"/><stop offset="0.5453" stop-color="#5a5a5a"/><stop offset="0.5586" stop-color="#636363"/><stop offset="0.5718" stop-color="#797979"/><stop offset="0.5842" stop-color="#8e8e8e"/><stop offset="0.5966" stop-color="#a4a4a4"/><stop offset="0.6090" stop-color="#b0b0b0"/><stop offset="0.6150" stop-color="#bfbfbf"/><stop offset="0.6526" stop-color="#bfbfbf"/><stop offset="0.6716" stop-color="#adadad"/><stop offset="0.7600" stop-color="#b0b0b0"/><stop offset="0.8400" stop-color="#bcbcbc"/><stop offset="0.9100" stop-color="#c7c7c7"/><stop offset="0.9700" stop-color="#d2d2d2"/><stop offset="1.0000" stop-color="#d2d2d2"/></linearGradient>
<linearGradient id="a30" gradientUnits="userSpaceOnUse" x1="138.3" y1="0" x2="704.0" y2="0"><stop offset="0.0000" stop-color="#f4f4f4"/><stop offset="0.0300" stop-color="#f4f4f4"/><stop offset="0.1000" stop-color="#ededed"/><stop offset="0.1800" stop-color="#e1e1e1"/><stop offset="0.2600" stop-color="#d6d6d6"/><stop offset="0.3400" stop-color="#cecece"/><stop offset="0.4050" stop-color="#c3c3c3"/><stop offset="0.4200" stop-color="#c3c3c3"/><stop offset="0.4326" stop-color="#a1a1a1"/><stop offset="0.4449" stop-color="#898989"/><stop offset="0.4573" stop-color="#707070"/><stop offset="0.4697" stop-color="#616161"/><stop offset="0.4821" stop-color="#525252"/><stop offset="0.4944" stop-color="#454545"/><stop offset="0.5200" stop-color="#383838"/><stop offset="0.5453" stop-color="#3f3f3f"/><stop offset="0.5586" stop-color="#4b4b4b"/><stop offset="0.5718" stop-color="#656565"/><stop offset="0.5842" stop-color="#7e7e7e"/><stop offset="0.5966" stop-color="#989898"/><stop offset="0.6090" stop-color="#a7a7a7"/><stop offset="0.6150" stop-color="#adadad"/><stop offset="0.6526" stop-color="#adadad"/><stop offset="0.6716" stop-color="#a1a1a1"/><stop offset="0.7600" stop-color="#a5a5a5"/><stop offset="0.8400" stop-color="#adadad"/><stop offset="0.9100" stop-color="#b4b4b4"/><stop offset="0.9700" stop-color="#b8b8b8"/><stop offset="1.0000" stop-color="#b8b8b8"/></linearGradient>
<linearGradient id="a31" gradientUnits="userSpaceOnUse" x1="138.3" y1="0" x2="704.0" y2="0"><stop offset="0.0000" stop-color="#f8f8f8"/><stop offset="0.0300" stop-color="#f8f8f8"/><stop offset="0.1000" stop-color="#f0f0f0"/><stop offset="0.1800" stop-color="#dddddd"/><stop offset="0.2600" stop-color="#cecece"/><stop offset="0.3400" stop-color="#adadad"/><stop offset="0.4050" stop-color="#929292"/><stop offset="0.4200" stop-color="#929292"/><stop offset="0.4326" stop-color="#8a8a8a"/><stop offset="0.4449" stop-color="#747474"/><stop offset="0.4573" stop-color="#5d5d5d"/><stop offset="0.4697" stop-color="#4f4f4f"/><stop offset="0.4821" stop-color="#414141"/><stop offset="0.4944" stop-color="#353535"/><stop offset="0.5200" stop-color="#292929"/><stop offset="0.5453" stop-color="#303030"/><stop offset="0.5586" stop-color="#3c3c3c"/><stop offset="0.5718" stop-color="#565656"/><stop offset="0.5842" stop-color="#717171"/><stop offset="0.5966" stop-color="#8b8b8b"/><stop offset="0.6090" stop-color="#9a9a9a"/><stop offset="0.6150" stop-color="#929292"/><stop offset="0.6526" stop-color="#929292"/><stop offset="0.6716" stop-color="#878787"/><stop offset="0.7600" stop-color="#8b8b8b"/><stop offset="0.8400" stop-color="#969696"/><stop offset="0.9100" stop-color="#a1a1a1"/><stop offset="0.9700" stop-color="#a5a5a5"/><stop offset="1.0000" stop-color="#a5a5a5"/></linearGradient>
<filter id="blA" x="-5%" y="-5%" width="110%" height="110%" color-interpolation-filters="sRGB"><feGaussianBlur stdDeviation="0.01 5.5"/></filter>
<filter id="blS" x="-50%" y="-100%" width="200%" height="300%" color-interpolation-filters="sRGB"><feGaussianBlur stdDeviation="3.5 2.2"/></filter>
<filter id="cmA" filterUnits="userSpaceOnUse" x="138.3" y="80.0" width="565.7" height="594.0" color-interpolation-filters="sRGB"><feTurbulence type="fractalNoise" baseFrequency="0.012 0.16" numOctaves="2" seed="7" result="n"/><feColorMatrix in="n" type="matrix" values="1 0 0 0 0 1 0 0 0 0 1 0 0 0 0 0 0 0 0 1" result="ng"/><feComposite in="SourceGraphic" in2="ng" operator="arithmetic" k1="0" k2="1" k3="0.1" k4="-0.05" result="v"/><feComponentTransfer in="v"><feFuncR type="table" tableValues="0.242 0.250 0.258 0.265 0.271 0.275 0.278 0.280 0.281 0.281 0.280 0.276 0.270 0.260 0.244 0.221 0.196 0.183 0.179 0.176 0.169 0.154 0.146 0.138 0.125 0.111 0.095 0.069 0.030 0.004 0.007 0.043 0.096 0.141 0.172 0.194 0.216 0.247 0.291 0.341 0.391 0.446 0.504 0.562 0.617 0.672 0.724 0.774 0.820 0.863 0.903 0.939 0.973 0.996 0.997 0.995 0.989 0.979 0.968 0.961 0.960 0.963 0.969 0.977"/><feFuncG type="table" tableValues="0.150 0.165 0.182 0.198 0.215 0.234 0.256 0.278 0.301 0.323 0.345 0.367 0.389 0.412 0.436 0.460 0.485 0.507 0.529 0.550 0.570 0.590 0.609 0.628 0.646 0.663 0.680 0.695 0.708 0.720 0.731 0.741 0.750 0.758 0.767 0.776 0.784 0.792 0.797 0.801 0.803 0.802 0.799 0.794 0.788 0.779 0.770 0.760 0.750 0.741 0.733 0.729 0.730 0.743 0.766 0.789 0.814 0.839 0.864 0.889 0.913 0.937 0.961 0.984"/><feFuncB type="table" tableValues="0.660 0.708 0.751 0.795 0.836 0.871 0.899 0.922 0.941 0.958 0.972 0.983 0.991 0.995 0.999 0.997 0.989 0.980 0.968 0.952 0.936 0.922 0.908 0.897 0.888 0.876 0.860 0.839 0.816 0.792 0.766 0.739 0.712 0.684 0.655 0.625 0.592 0.557 0.519 0.479 0.435 0.391 0.348 0.304 0.261 0.223 0.191 0.165 0.153 0.160 0.177 0.210 0.239 0.237 0.220 0.203 0.189 0.177 0.164 0.154 0.142 0.127 0.106 0.081"/></feComponentTransfer></filter>
<clipPath id="clipT"><rect x="300" y="780" width="300" height="75.3"/></clipPath>
<linearGradient id="cg" x1="0" y1="0" x2="1" y2="0"><stop offset="0.0000" stop-color="#f9fb15"/><stop offset="0.3319" stop-color="#f9fb15"/><stop offset="0.3409" stop-color="#f9fb15"/><stop offset="0.3445" stop-color="#f8f719"/><stop offset="0.3535" stop-color="#f8f719"/><stop offset="0.3570" stop-color="#f7f31d"/><stop offset="0.3661" stop-color="#f7f31d"/><stop offset="0.3696" stop-color="#f6ef20"/><stop offset="0.3786" stop-color="#f6ef20"/><stop offset="0.3821" stop-color="#f5e626"/><stop offset="0.3912" stop-color="#f5e626"/><stop offset="0.3947" stop-color="#f7dc2a"/><stop offset="0.4038" stop-color="#f7dc2a"/><stop offset="0.4073" stop-color="#fec934"/><stop offset="0.4163" stop-color="#fec934"/><stop offset="0.4198" stop-color="#e8bb2f"/><stop offset="0.4289" stop-color="#e8bb2f"/><stop offset="0.4324" stop-color="#90ca4d"/><stop offset="0.4414" stop-color="#90ca4d"/><stop offset="0.4450" stop-color="#37c897"/><stop offset="0.4540" stop-color="#37c897"/><stop offset="0.4575" stop-color="#1ca9df"/><stop offset="0.4666" stop-color="#1ca9df"/><stop offset="0.4701" stop-color="#327cfc"/><stop offset="0.4791" stop-color="#327cfc"/><stop offset="0.4827" stop-color="#4741e5"/><stop offset="0.4917" stop-color="#4741e5"/><stop offset="0.4952" stop-color="#4330c5"/><stop offset="0.5043" stop-color="#4330c5"/><stop offset="0.5078" stop-color="#3e26a8"/><stop offset="0.5168" stop-color="#3e26a8"/><stop offset="0.5203" stop-color="#4330c5"/><stop offset="0.5294" stop-color="#4330c5"/><stop offset="0.5329" stop-color="#4741e5"/><stop offset="0.5420" stop-color="#4741e5"/><stop offset="0.5455" stop-color="#327cfc"/><stop offset="0.5545" stop-color="#327cfc"/><stop offset="0.5580" stop-color="#1ca9df"/><stop offset="0.5671" stop-color="#1ca9df"/><stop offset="0.5706" stop-color="#37c897"/><stop offset="0.5796" stop-color="#37c897"/><stop offset="0.5832" stop-color="#90ca4d"/><stop offset="0.5922" stop-color="#90ca4d"/><stop offset="0.5957" stop-color="#e8bb2f"/><stop offset="0.6048" stop-color="#e8bb2f"/><stop offset="0.6083" stop-color="#fec934"/><stop offset="0.6173" stop-color="#fec934"/><stop offset="0.6208" stop-color="#f7dc2a"/><stop offset="0.6299" stop-color="#f7dc2a"/><stop offset="0.6334" stop-color="#f5e626"/><stop offset="0.6425" stop-color="#f5e626"/><stop offset="0.6460" stop-color="#f6ef20"/><stop offset="0.6550" stop-color="#f6ef20"/><stop offset="0.6585" stop-color="#f7f31d"/><stop offset="0.6676" stop-color="#f7f31d"/><stop offset="0.6711" stop-color="#f8f719"/><stop offset="0.6801" stop-color="#f8f719"/><stop offset="0.6837" stop-color="#f9fb15"/><stop offset="0.6927" stop-color="#f9fb15"/><stop offset="1.0000" stop-color="#f9fb15"/></linearGradient>
<filter id="cmB" filterUnits="userSpaceOnUse" x="1013.4" y="74.2" width="565.6" height="600.4" color-interpolation-filters="sRGB"><feTurbulence type="fractalNoise" baseFrequency="0.02 0.25" numOctaves="2" seed="11" result="n"/><feColorMatrix in="n" type="matrix" values="1 0 0 0 0 1 0 0 0 0 1 0 0 0 0 0 0 0 0 1" result="ng"/><feComposite in="SourceGraphic" in2="ng" operator="arithmetic" k1="0" k2="1" k3="0.06" k4="-0.05" result="v"/><feComponentTransfer in="v"><feFuncR type="table" tableValues="0.242 0.250 0.258 0.265 0.271 0.275 0.278 0.280 0.281 0.281 0.280 0.276 0.270 0.260 0.244 0.221 0.196 0.183 0.179 0.176 0.169 0.154 0.146 0.138 0.125 0.111 0.095 0.069 0.030 0.004 0.007 0.043 0.096 0.141 0.172 0.194 0.216 0.247 0.291 0.341 0.391 0.446 0.504 0.562 0.617 0.672 0.724 0.774 0.820 0.863 0.903 0.939 0.973 0.996 0.997 0.995 0.989 0.979 0.968 0.961 0.960 0.963 0.969 0.977"/><feFuncG type="table" tableValues="0.150 0.165 0.182 0.198 0.215 0.234 0.256 0.278 0.301 0.323 0.345 0.367 0.389 0.412 0.436 0.460 0.485 0.507 0.529 0.550 0.570 0.590 0.609 0.628 0.646 0.663 0.680 0.695 0.708 0.720 0.731 0.741 0.750 0.758 0.767 0.776 0.784 0.792 0.797 0.801 0.803 0.802 0.799 0.794 0.788 0.779 0.770 0.760 0.750 0.741 0.733 0.729 0.730 0.743 0.766 0.789 0.814 0.839 0.864 0.889 0.913 0.937 0.961 0.984"/><feFuncB type="table" tableValues="0.660 0.708 0.751 0.795 0.836 0.871 0.899 0.922 0.941 0.958 0.972 0.983 0.991 0.995 0.999 0.997 0.989 0.980 0.968 0.952 0.936 0.922 0.908 0.897 0.888 0.876 0.860 0.839 0.816 0.792 0.766 0.739 0.712 0.684 0.655 0.625 0.592 0.557 0.519 0.479 0.435 0.391 0.348 0.304 0.261 0.223 0.191 0.165 0.153 0.160 0.177 0.210 0.239 0.237 0.220 0.203 0.189 0.177 0.164 0.154 0.142 0.127 0.106 0.081"/></feComponentTransfer></filter>
<radialGradient id="glow" cx="0.5" cy="0.5" r="0.5"><stop offset="0" stop-color="#fff" stop-opacity="0.19"/><stop offset="0.3" stop-color="#fff" stop-opacity="0.15"/><stop offset="0.6" stop-color="#fff" stop-opacity="0.08"/><stop offset="0.85" stop-color="#fff" stop-opacity="0.03"/><stop offset="1" stop-color="#fff" stop-opacity="0"/></radialGradient>
<radialGradient id="glow2" cx="0.5" cy="0.5" r="0.5"><stop offset="0" stop-color="#fff" stop-opacity="0.045"/><stop offset="0.4" stop-color="#fff" stop-opacity="0.035"/><stop offset="0.75" stop-color="#fff" stop-opacity="0.02"/><stop offset="1" stop-color="#fff" stop-opacity="0"/></radialGradient>
<linearGradient id="lineB" x1="0" y1="0" x2="1" y2="0"><stop offset="0" stop-color="#fff" stop-opacity="0"/><stop offset="0.05" stop-color="#fff" stop-opacity="0.2"/><stop offset="0.10" stop-color="#fff" stop-opacity="0.6"/><stop offset="0.14" stop-color="#fff" stop-opacity="0.8"/><stop offset="0.3" stop-color="#fff" stop-opacity="0.82"/><stop offset="0.45" stop-color="#fff" stop-opacity="0.74"/><stop offset="0.55" stop-color="#fff" stop-opacity="0.74"/><stop offset="0.7" stop-color="#fff" stop-opacity="0.82"/><stop offset="0.86" stop-color="#fff" stop-opacity="0.8"/><stop offset="0.90" stop-color="#fff" stop-opacity="0.6"/><stop offset="0.95" stop-color="#fff" stop-opacity="0.2"/><stop offset="1" stop-color="#fff" stop-opacity="0"/></linearGradient>
<filter id="bl1" x="-10%" y="-400%" width="120%" height="900%" color-interpolation-filters="sRGB"><feGaussianBlur stdDeviation="0.9 0.75"/></filter>
<filter id="bl2" x="-50%" y="-50%" width="200%" height="200%" color-interpolation-filters="sRGB"><feGaussianBlur stdDeviation="1.5"/></filter>
<linearGradient id="lineD" x1="0" y1="0" x2="1" y2="0"><stop offset="0" stop-color="#3c50e0" stop-opacity="0"/><stop offset="0.1" stop-color="#3468f0" stop-opacity="0.9"/><stop offset="0.16" stop-color="#40a8d0"/><stop offset="0.19" stop-color="#d0a850"/><stop offset="0.24" stop-color="#c8b848"/><stop offset="0.76" stop-color="#c8b848"/><stop offset="0.81" stop-color="#d0a850"/><stop offset="0.84" stop-color="#40a8d0"/><stop offset="0.9" stop-color="#3468f0" stop-opacity="0.9"/><stop offset="1" stop-color="#3c50e0" stop-opacity="0"/></linearGradient>
</defs>
<rect width="1770" height="1617" fill="#fff"/>
<g filter="url(#cmA)">
<g filter="url(#blA)">
<rect x="136.3" y="40.0" width="569.7" height="59.0625" fill="url(#a0)"/>
<rect x="136.3" y="80.00" width="569.7" height="19.16" fill="url(#a0)"/>
<rect x="136.3" y="98.56" width="569.7" height="19.16" fill="url(#a1)"/>
<rect x="136.3" y="117.12" width="569.7" height="19.16" fill="url(#a2)"/>
<rect x="136.3" y="135.69" width="569.7" height="19.16" fill="url(#a3)"/>
<rect x="136.3" y="154.25" width="569.7" height="19.16" fill="url(#a4)"/>
<rect x="136.3" y="172.81" width="569.7" height="19.16" fill="url(#a5)"/>
<rect x="136.3" y="191.38" width="569.7" height="19.16" fill="url(#a6)"/>
<rect x="136.3" y="209.94" width="569.7" height="19.16" fill="url(#a7)"/>
<rect x="136.3" y="228.50" width="569.7" height="19.16" fill="url(#a8)"/>
<rect x="136.3" y="247.06" width="569.7" height="19.16" fill="url(#a9)"/>
<rect x="136.3" y="265.62" width="569.7" height="19.16" fill="url(#a10)"/>
<rect x="136.3" y="284.19" width="569.7" height="19.16" fill="url(#a11)"/>
<rect x="136.3" y="302.75" width="569.7" height="19.16" fill="url(#a12)"/>
<rect x="136.3" y="321.31" width="569.7" height="19.16" fill="url(#a13)"/>
<rect x="136.3" y="339.88" width="569.7" height="19.16" fill="url(#a14)"/>
<rect x="136.3" y="358.44" width="569.7" height="19.16" fill="url(#a15)"/>
<rect x="136.3" y="377.00" width="569.7" height="19.16" fill="url(#a16)"/>
<rect x="136.3" y="395.56" width="569.7" height="19.16" fill="url(#a17)"/>
<rect x="136.3" y="414.12" width="569.7" height="19.16" fill="url(#a18)"/>
<rect x="136.3" y="432.69" width="569.7" height="19.16" fill="url(#a19)"/>
<rect x="136.3" y="451.25" width="569.7" height="19.16" fill="url(#a20)"/>
<rect x="136.3" y="469.81" width="569.7" height="19.16" fill="url(#a21)"/>
<rect x="136.3" y="488.38" width="569.7" height="19.16" fill="url(#a22)"/>
<rect x="136.3" y="506.94" width="569.7" height="19.16" fill="url(#a23)"/>
<rect x="136.3" y="525.50" width="569.7" height="19.16" fill="url(#a24)"/>
<rect x="136.3" y="544.06" width="569.7" height="19.16" fill="url(#a25)"/>
<rect x="136.3" y="562.62" width="569.7" height="19.16" fill="url(#a26)"/>
<rect x="136.3" y="581.19" width="569.7" height="19.16" fill="url(#a27)"/>
<rect x="136.3" y="599.75" width="569.7" height="19.16" fill="url(#a28)"/>
<rect x="136.3" y="618.31" width="569.7" height="19.16" fill="url(#a29)"/>
<rect x="136.3" y="636.88" width="569.7" height="19.16" fill="url(#a30)"/>
<rect x="136.3" y="655.44" width="569.7" height="19.16" fill="url(#a31)"/>
<rect x="136.3" y="655.44" width="569.7" height="58.5625" fill="url(#a31)"/>
</g>
<g filter="url(#blS)">
<ellipse cx="424.2" cy="92.4" rx="14" ry="3.8" fill="#050505" opacity="0.3"/>
<ellipse cx="425.0" cy="151.2" rx="17" ry="4.6" fill="#050505" opacity="1.0"/>
<ellipse cx="425.3" cy="174" rx="14" ry="3.8" fill="#050505" opacity="0.25"/>
<ellipse cx="425.5" cy="184.6" rx="15" ry="3.8" fill="#050505" opacity="0.6"/>
<ellipse cx="425.8" cy="202.5" rx="14" ry="3.8" fill="#050505" opacity="0.4"/>
<ellipse cx="425.9" cy="213" rx="14" ry="3.8" fill="#050505" opacity="0.2"/>
<ellipse cx="426.7" cy="271.8" rx="14" ry="3.8" fill="#050505" opacity="0.45"/>
<ellipse cx="427.0" cy="290" rx="14" ry="3.8" fill="#050505" opacity="0.25"/>
<ellipse cx="427.4" cy="321" rx="14" ry="3.8" fill="#050505" opacity="0.3"/>
<ellipse cx="428.0" cy="356.7" rx="14" ry="3.8" fill="#050505" opacity="0.25"/>
<ellipse cx="428.2" cy="373" rx="14" ry="3.8" fill="#050505" opacity="0.3"/>
<ellipse cx="428.4" cy="384" rx="14" ry="3.8" fill="#050505" opacity="0.35"/>
<ellipse cx="428.6" cy="402.5" rx="15" ry="3.8" fill="#050505" opacity="0.55"/>
<ellipse cx="429.0" cy="427" rx="13" ry="3.8" fill="#050505" opacity="0.3"/>
<ellipse cx="429.2" cy="441" rx="14" ry="3.8" fill="#050505" opacity="0.45"/>
<ellipse cx="429.4" cy="455.7" rx="15" ry="3.8" fill="#050505" opacity="0.6"/>
<ellipse cx="429.6" cy="473" rx="17" ry="4.6" fill="#050505" opacity="1.0"/>
<ellipse cx="430.0" cy="499.5" rx="15" ry="3.8" fill="#050505" opacity="0.6"/>
<ellipse cx="430.3" cy="518" rx="14" ry="3.8" fill="#050505" opacity="0.3"/>
<ellipse cx="430.4" cy="530.5" rx="15" ry="3.8" fill="#050505" opacity="0.6"/>
<ellipse cx="430.6" cy="541.6" rx="14" ry="3.8" fill="#050505" opacity="0.3"/>
<ellipse cx="430.7" cy="550" rx="14" ry="3.8" fill="#050505" opacity="0.3"/>
<ellipse cx="431.1" cy="573.8" rx="17" ry="4.6" fill="#050505" opacity="1.0"/>
<ellipse cx="431.4" cy="599.8" rx="14" ry="3.8" fill="#050505" opacity="0.25"/>
<ellipse cx="432.0" cy="640.6" rx="14" ry="3.8" fill="#050505" opacity="0.3"/>
<ellipse cx="432.2" cy="653.6" rx="15" ry="3.8" fill="#050505" opacity="0.65"/>
<ellipse cx="432.4" cy="670.3" rx="17" ry="4.6" fill="#050505" opacity="0.95"/>
</g>
</g>
<line x1="138.3" y1="80.0" x2="138.3" y2="675.0" stroke="#3a3a3a" stroke-width="2.6" opacity="0.85"/>
<line x1="137.3" y1="674.5" x2="704.0" y2="674.5" stroke="#3a3a3a" stroke-width="1.4" opacity="0.55"/>
<text x="126.3" y="689.32" font-size="40.0" text-anchor="end" >0</text>
<text x="126.3" y="585.62" font-size="40.0" text-anchor="end" >20</text>
<text x="126.3" y="481.92" font-size="40.0" text-anchor="end" >40</text>
<text x="126.3" y="378.22" font-size="40.0" text-anchor="end" >60</text>
<text x="126.3" y="274.52000000000004" font-size="40.0" text-anchor="end" >80</text>
<text x="126.3" y="170.82" font-size="40.0" text-anchor="end" >100</text>
<text x="259.6" y="724.3" font-size="40.0" text-anchor="middle" >2</text>
<text x="385.8" y="724.3" font-size="40.0" text-anchor="middle" >4</text>
<text x="512.3" y="724.3" font-size="40.0" text-anchor="middle" >6</text>
<text x="639.5" y="724.3" font-size="40.0" text-anchor="middle" >8</text>
<text transform="translate(291.6,775.1) rotate(0)" font-size="43.7">Distance,<tspan x="194.5" font-family='"DejaVu Serif", "Liberation Serif", serif' font-style="italic" font-size="38.5" stroke-width="0.5">μ</tspan><tspan x="221.3">m</tspan></text>
<text transform="translate(45.2,507.6) rotate(-90)" font-size="43.7">Distance,<tspan x="194.5" font-family='"DejaVu Serif", "Liberation Serif", serif' font-style="italic" font-size="38.5" stroke-width="0.5">μ</tspan><tspan x="221.3">m</tspan></text>
<text x="406.6" y="56.2" font-size="65" stroke-width="0.15">a<tspan dx="1.8">)</tspan></text>
<rect x="712.4" y="78.8" width="40.00000000000002" height="596.4" fill="#e4e0f2" opacity="0.9"/>
<rect x="714.8000000000001" y="81.2" width="35.200000000000024" height="591.6" fill="url(#pg)" stroke="#353535" stroke-width="2.4"/>
<line x1="743.7" y1="157.9" x2="750.2" y2="157.9" stroke="#222" stroke-width="2.3"/>
<text x="762.2" y="170.609" font-size="35.5" text-anchor="start" >0.6</text>
<line x1="743.7" y1="245.7" x2="750.2" y2="245.7" stroke="#222" stroke-width="2.3"/>
<text x="762.2" y="258.409" font-size="35.5" text-anchor="start" >0.5</text>
<line x1="743.7" y1="333.5" x2="750.2" y2="333.5" stroke="#222" stroke-width="2.3"/>
<text x="762.2" y="346.209" font-size="35.5" text-anchor="start" >0.4</text>
<line x1="743.7" y1="421.29999999999995" x2="750.2" y2="421.29999999999995" stroke="#222" stroke-width="2.3"/>
<text x="762.2" y="434.00899999999996" font-size="35.5" text-anchor="start" >0.3</text>
<line x1="743.7" y1="509.1" x2="750.2" y2="509.1" stroke="#222" stroke-width="2.3"/>
<text x="762.2" y="521.809" font-size="35.5" text-anchor="start" >0.2</text>
<line x1="743.7" y1="596.9" x2="750.2" y2="596.9" stroke="#222" stroke-width="2.3"/>
<text x="762.2" y="609.6089999999999" font-size="35.5" text-anchor="start" >0.1</text>
<rect x="129.6" y="885.3" width="573.1" height="600.7" fill="url(#cg)"/>
<line x1="130.2" y1="885.3" x2="130.2" y2="1486.0" stroke="#6a6a2a" stroke-width="1.4" opacity="0.7"/>
<text x="117.5" y="1405.37" font-size="40.0" text-anchor="end" >20</text>
<text x="117.5" y="1300.32" font-size="40.0" text-anchor="end" >40</text>
<text x="117.5" y="1195.2699999999998" font-size="40.0" text-anchor="end" >60</text>
<text x="117.5" y="1090.2199999999998" font-size="40.0" text-anchor="end" >80</text>
<text x="117.5" y="985.17" font-size="40.0" text-anchor="end" >100</text>
<text x="246.8" y="1536.4" font-size="40.0" text-anchor="middle" >2</text>
<text x="374.3" y="1536.4" font-size="40.0" text-anchor="middle" >4</text>
<text x="503.8" y="1536.4" font-size="40.0" text-anchor="middle" >6</text>
<text x="632.3" y="1536.4" font-size="40.0" text-anchor="middle" >8</text>
<text transform="translate(286.6,1588) rotate(0)" font-size="43.7">Distance,<tspan x="194.5" font-family='"DejaVu Serif", "Liberation Serif", serif' font-style="italic" font-size="38.5" stroke-width="0.5">μ</tspan><tspan x="221.3">m</tspan></text>
<text transform="translate(35.4,1313.9) rotate(-90)" font-size="43.7">Distance,<tspan x="194.5" font-family='"DejaVu Serif", "Liberation Serif", serif' font-style="italic" font-size="38.5" stroke-width="0.5">μ</tspan><tspan x="221.3">m</tspan></text>
<text x="397" y="852.6" font-size="65" stroke-width="0.15" clip-path="url(#clipT)">c<tspan dx="2.8">)</tspan></text>
<rect x="710.8" y="884.0999999999999" width="40.50000000000002" height="603.1" fill="#e4e0f2" opacity="0.9"/>
<rect x="713.2" y="886.5" width="35.700000000000024" height="598.3000000000001" fill="url(#pg)" stroke="#353535" stroke-width="2.4"/>
<text x="762" y="897.809" font-size="35.5" text-anchor="start" >0.55</text>
<line x1="742.6" y1="976.3000000000001" x2="749.1" y2="976.3000000000001" stroke="#222" stroke-width="2.3"/>
<text x="762" y="989.009" font-size="35.5" text-anchor="start" >0.5</text>
<line x1="742.6" y1="1067.5" x2="749.1" y2="1067.5" stroke="#222" stroke-width="2.3"/>
<text x="762" y="1080.209" font-size="35.5" text-anchor="start" >0.45</text>
<line x1="742.6" y1="1158.7" x2="749.1" y2="1158.7" stroke="#222" stroke-width="2.3"/>
<text x="762" y="1171.409" font-size="35.5" text-anchor="start" >0.4</text>
<line x1="742.6" y1="1249.9" x2="749.1" y2="1249.9" stroke="#222" stroke-width="2.3"/>
<text x="762" y="1262.6090000000002" font-size="35.5" text-anchor="start" >0.35</text>
<line x1="742.6" y1="1341.1" x2="749.1" y2="1341.1" stroke="#222" stroke-width="2.3"/>
<text x="762" y="1353.809" font-size="35.5" text-anchor="start" >0.3</text>
<line x1="742.6" y1="1432.3000000000002" x2="749.1" y2="1432.3000000000002" stroke="#222" stroke-width="2.3"/>
<text x="762" y="1445.0090000000002" font-size="35.5" text-anchor="start" >0.25</text>
<g filter="url(#cmB)">
<rect x="1008.4" y="69.2" width="575.6" height="610.4" fill="#000"/>
<ellipse cx="1303" cy="374" rx="320" ry="230" fill="url(#glow2)"/>
<ellipse cx="1303" cy="374" rx="56" ry="46" fill="url(#glow)"/>
<rect x="1236" y="372.6" width="136" height="2.8" fill="url(#lineB)" filter="url(#bl1)"/>
<rect x="1214" y="373" width="14" height="2" fill="#fff" opacity="0.09" filter="url(#bl1)"/>
<rect x="1380" y="373" width="13" height="2" fill="#fff" opacity="0.09" filter="url(#bl1)"/>
<g filter="url(#bl2)"><ellipse cx="1303.3" cy="374" rx="11.5" ry="7.8" fill="#fff" opacity="0.55"/><ellipse cx="1303.3" cy="374" rx="9.8" ry="6" fill="#fff"/></g>
</g>
<rect x="1014.4" y="75.10000000000001" width="563.6" height="598.6" fill="none" stroke="#2b10a0" stroke-width="2" opacity="0.9"/>
<line x1="1579.3" y1="674.2" x2="1586.0" y2="674.2" stroke="#555" stroke-width="2.4" stroke-linecap="round"/>
<line x1="1580.5" y1="155.39999999999998" x2="1586.5" y2="155.39999999999998" stroke="#dcdce4" stroke-width="1.6"/>
<line x1="1580.5" y1="264.29999999999995" x2="1586.5" y2="264.29999999999995" stroke="#dcdce4" stroke-width="1.6"/>
<line x1="1580.5" y1="373.2" x2="1586.5" y2="373.2" stroke="#dcdce4" stroke-width="1.6"/>
<line x1="1580.5" y1="482.1" x2="1586.5" y2="482.1" stroke="#dcdce4" stroke-width="1.6"/>
<line x1="1580.5" y1="591.0" x2="1586.5" y2="591.0" stroke="#dcdce4" stroke-width="1.6"/>
<text x="1001" y="169.71999999999997" font-size="40.0" text-anchor="end" >20</text>
<text x="1001" y="278.61999999999995" font-size="40.0" text-anchor="end" >10</text>
<text x="1001" y="387.52" font-size="40.0" text-anchor="end" >0</text>
<text x="1001" y="496.42" font-size="40.0" text-anchor="end" >-10</text>
<text x="1001" y="605.32" font-size="40.0" text-anchor="end" >-20</text>
<text x="1093.7" y="724.4" font-size="40.0" text-anchor="middle" >-20</text>
<text x="1197.0" y="724.4" font-size="40.0" text-anchor="middle" >-10</text>
<text x="1300.3" y="724.4" font-size="40.0" text-anchor="middle" >0</text>
<text x="1403.6" y="724.4" font-size="40.0" text-anchor="middle" >10</text>
<text x="1506.8999999999999" y="724.4" font-size="40.0" text-anchor="middle" >20</text>
<text transform="translate(1040.2,783.4) rotate(0)" font-size="43.7">Spatial frequency<tspan x="352.5" font-family='"DejaVu Serif", "Liberation Serif", serif' font-style="italic" font-size="35" stroke-width="0.5">ω</tspan><tspan x="383.6" dy="20" font-size="40">x</tspan><tspan x="408.9" dy="-20">(</tspan><tspan x="425.6" font-family='"DejaVu Serif", "Liberation Serif", serif' font-style="italic" font-size="38.5" stroke-width="0.5">μ</tspan><tspan x="453.5">m</tspan><tspan x="491.8" dy="-26" font-size="32">-1</tspan><tspan x="524.5" dy="26">)</tspan></text>
<text transform="translate(909.3,651.6) rotate(-90)" font-size="43.7">Spatial frequency<tspan x="352.5" font-family='"DejaVu Serif", "Liberation Serif", serif' font-style="italic" font-size="35" stroke-width="0.5">ω</tspan><tspan x="383.6" dy="23" font-size="33">y</tspan><tspan x="417.7" dy="-23">(</tspan><tspan x="434.70000000000005" font-family='"DejaVu Serif", "Liberation Serif", serif' font-style="italic" font-size="38.5" stroke-width="0.5">μ</tspan><tspan x="465.6">m</tspan><tspan x="503.90000000000003" dy="-26" font-size="32">-1</tspan><tspan x="534.6" dy="26">)</tspan></text>
<text x="1290.6" y="51.9" font-size="65" stroke-width="0.15">b<tspan dx="1.8">)</tspan></text>
<rect x="1607.8" y="72.8" width="42.49999999999991" height="603.3" fill="#e4e0f2" opacity="0.9"/>
<rect x="1610.2" y="75.2" width="37.69999999999991" height="598.5" fill="url(#pg)" stroke="#353535" stroke-width="2.4"/>
<line x1="1641.6" y1="148.9" x2="1648.1" y2="148.9" stroke="#222" stroke-width="2.3"/>
<text x="1661" y="161.609" font-size="35.5" text-anchor="start" >12</text>
<line x1="1641.6" y1="236.75" x2="1648.1" y2="236.75" stroke="#222" stroke-width="2.3"/>
<text x="1661" y="249.459" font-size="35.5" text-anchor="start" >10</text>
<line x1="1641.6" y1="324.6" x2="1648.1" y2="324.6" stroke="#222" stroke-width="2.3"/>
<text x="1661" y="337.309" font-size="35.5" text-anchor="start" >8</text>
<line x1="1641.6" y1="412.44999999999993" x2="1648.1" y2="412.44999999999993" stroke="#222" stroke-width="2.3"/>
<text x="1661" y="425.15899999999993" font-size="35.5" text-anchor="start" >6</text>
<line x1="1641.6" y1="500.29999999999995" x2="1648.1" y2="500.29999999999995" stroke="#222" stroke-width="2.3"/>
<text x="1661" y="513.0089999999999" font-size="35.5" text-anchor="start" >4</text>
<line x1="1641.6" y1="588.15" x2="1648.1" y2="588.15" stroke="#222" stroke-width="2.3"/>
<text x="1661" y="600.8589999999999" font-size="35.5" text-anchor="start" >2</text>
<text x="1672.5" y="111.5" font-size="35.5"><tspan font-size="38">×</tspan><tspan x="1698">10</tspan><tspan x="1742.2" dy="-19" font-size="28">-4</tspan></text>
<rect x="1013.4" y="882.8" width="566.6999999999999" height="601.8" fill="#3e26a8"/>
<rect x="1222" y="1182.2" width="165" height="2.8" fill="url(#lineD)" filter="url(#bl1)"/>
<rect x="1240" y="1185.4" width="130" height="1.6" fill="#2a0fa0" opacity="0.75" filter="url(#bl1)"/>
<rect x="1014.4" y="883.6999999999999" width="564.6999999999999" height="600.0" fill="none" stroke="#2b10a0" stroke-width="2" opacity="0.9"/>
<line x1="1580.3999999999999" y1="1484.1999999999998" x2="1587.1" y2="1484.1999999999998" stroke="#555" stroke-width="2.4" stroke-linecap="round"/>
<line x1="1581.6" y1="964.9000000000001" x2="1587.6" y2="964.9000000000001" stroke="#dcdce4" stroke-width="1.6"/>
<line x1="1581.6" y1="1073.8" x2="1587.6" y2="1073.8" stroke="#dcdce4" stroke-width="1.6"/>
<line x1="1581.6" y1="1291.6000000000001" x2="1587.6" y2="1291.6000000000001" stroke="#dcdce4" stroke-width="1.6"/>
<line x1="1581.6" y1="1400.5" x2="1587.6" y2="1400.5" stroke="#dcdce4" stroke-width="1.6"/>
<ellipse cx="1597" cy="1340" rx="1.5" ry="7" fill="#e4e4fa"/>
<rect x="1296.4" y="878.7" width="8.6" height="8.6" fill="#e8e8ff" stroke="#3b82c4" stroke-width="2.7" rx="1.2"/>
<rect x="1577.3" y="878.7" width="8.6" height="8.6" fill="#e8e8ff" stroke="#3b82c4" stroke-width="2.7" rx="1.2"/>
<rect x="1577.3" y="1179.0" width="8.6" height="8.6" fill="#e8e8ff" stroke="#3b82c4" stroke-width="2.7" rx="1.2"/>
<text x="1001" y="979.2200000000001" font-size="40.0" text-anchor="end" >20</text>
<text x="1001" y="1088.12" font-size="40.0" text-anchor="end" >10</text>
<text x="1001" y="1197.02" font-size="40.0" text-anchor="end" >0</text>
<text x="1001" y="1305.92" font-size="40.0" text-anchor="end" >-10</text>
<text x="1001" y="1414.82" font-size="40.0" text-anchor="end" >-20</text>
<text x="1093.7" y="1534.6" font-size="40.0" text-anchor="middle" >-20</text>
<text x="1197.0" y="1534.6" font-size="40.0" text-anchor="middle" >-10</text>
<text x="1300.3" y="1534.6" font-size="40.0" text-anchor="middle" >0</text>
<text x="1403.6" y="1534.6" font-size="40.0" text-anchor="middle" >10</text>
<text x="1506.8999999999999" y="1534.6" font-size="40.0" text-anchor="middle" >20</text>
<text transform="translate(1046.6,1591.5) rotate(0)" font-size="43.7">Spatial frequency<tspan x="352.5" font-family='"DejaVu Serif", "Liberation Serif", serif' font-style="italic" font-size="35" stroke-width="0.5">ω</tspan><tspan x="383.6" dy="20" font-size="40">x</tspan><tspan x="408.9" dy="-20">(</tspan><tspan x="425.6" font-family='"DejaVu Serif", "Liberation Serif", serif' font-style="italic" font-size="38.5" stroke-width="0.5">μ</tspan><tspan x="453.5">m</tspan><tspan x="491.8" dy="-26" font-size="32">-1</tspan><tspan x="524.5" dy="26">)</tspan></text>
<text transform="translate(909.3,1461.2) rotate(-90)" font-size="43.7">Spatial frequency<tspan x="352.5" font-family='"DejaVu Serif", "Liberation Serif", serif' font-style="italic" font-size="35" stroke-width="0.5">ω</tspan><tspan x="383.6" dy="23" font-size="33">y</tspan><tspan x="417.7" dy="-23">(</tspan><tspan x="434.70000000000005" font-family='"DejaVu Serif", "Liberation Serif", serif' font-style="italic" font-size="38.5" stroke-width="0.5">μ</tspan><tspan x="465.6">m</tspan><tspan x="503.90000000000003" dy="-26" font-size="32">-1</tspan><tspan x="534.6" dy="26">)</tspan></text>
<text x="1291.3" y="854.3" font-size="65" stroke-width="0.15">d<tspan dx="1.8">)</tspan></text>
<rect x="1608.3999999999999" y="884.0999999999999" width="43.9" height="607.9" fill="#e4e0f2" opacity="0.9"/>
<rect x="1610.8" y="886.5" width="39.1" height="603.1" fill="url(#pg)" stroke="#353535" stroke-width="2.4"/>
<line x1="1643.6" y1="929.2" x2="1650.1" y2="929.2" stroke="#222" stroke-width="2.3"/>
<text x="1663.3" y="941.909" font-size="35.5" text-anchor="start" >12</text>
<line x1="1643.6" y1="1022.84" x2="1650.1" y2="1022.84" stroke="#222" stroke-width="2.3"/>
<text x="1663.3" y="1035.549" font-size="35.5" text-anchor="start" >10</text>
<line x1="1643.6" y1="1116.48" x2="1650.1" y2="1116.48" stroke="#222" stroke-width="2.3"/>
<text x="1663.3" y="1129.189" font-size="35.5" text-anchor="start" >8</text>
<line x1="1643.6" y1="1210.1200000000001" x2="1650.1" y2="1210.1200000000001" stroke="#222" stroke-width="2.3"/>
<text x="1663.3" y="1222.8290000000002" font-size="35.5" text-anchor="start" >6</text>
<line x1="1643.6" y1="1303.76" x2="1650.1" y2="1303.76" stroke="#222" stroke-width="2.3"/>
<text x="1663.3" y="1316.469" font-size="35.5" text-anchor="start" >4</text>
<line x1="1643.6" y1="1397.4" x2="1650.1" y2="1397.4" stroke="#222" stroke-width="2.3"/>
<text x="1663.3" y="1410.1090000000002" font-size="35.5" text-anchor="start" >2</text>
<text x="1664" y="892" font-size="35.5"><tspan font-size="38">×</tspan><tspan x="1689.5">10</tspan><tspan x="1732.4" dy="-19" font-size="28">-4</tspan></text>
</svg>
</body></html>
